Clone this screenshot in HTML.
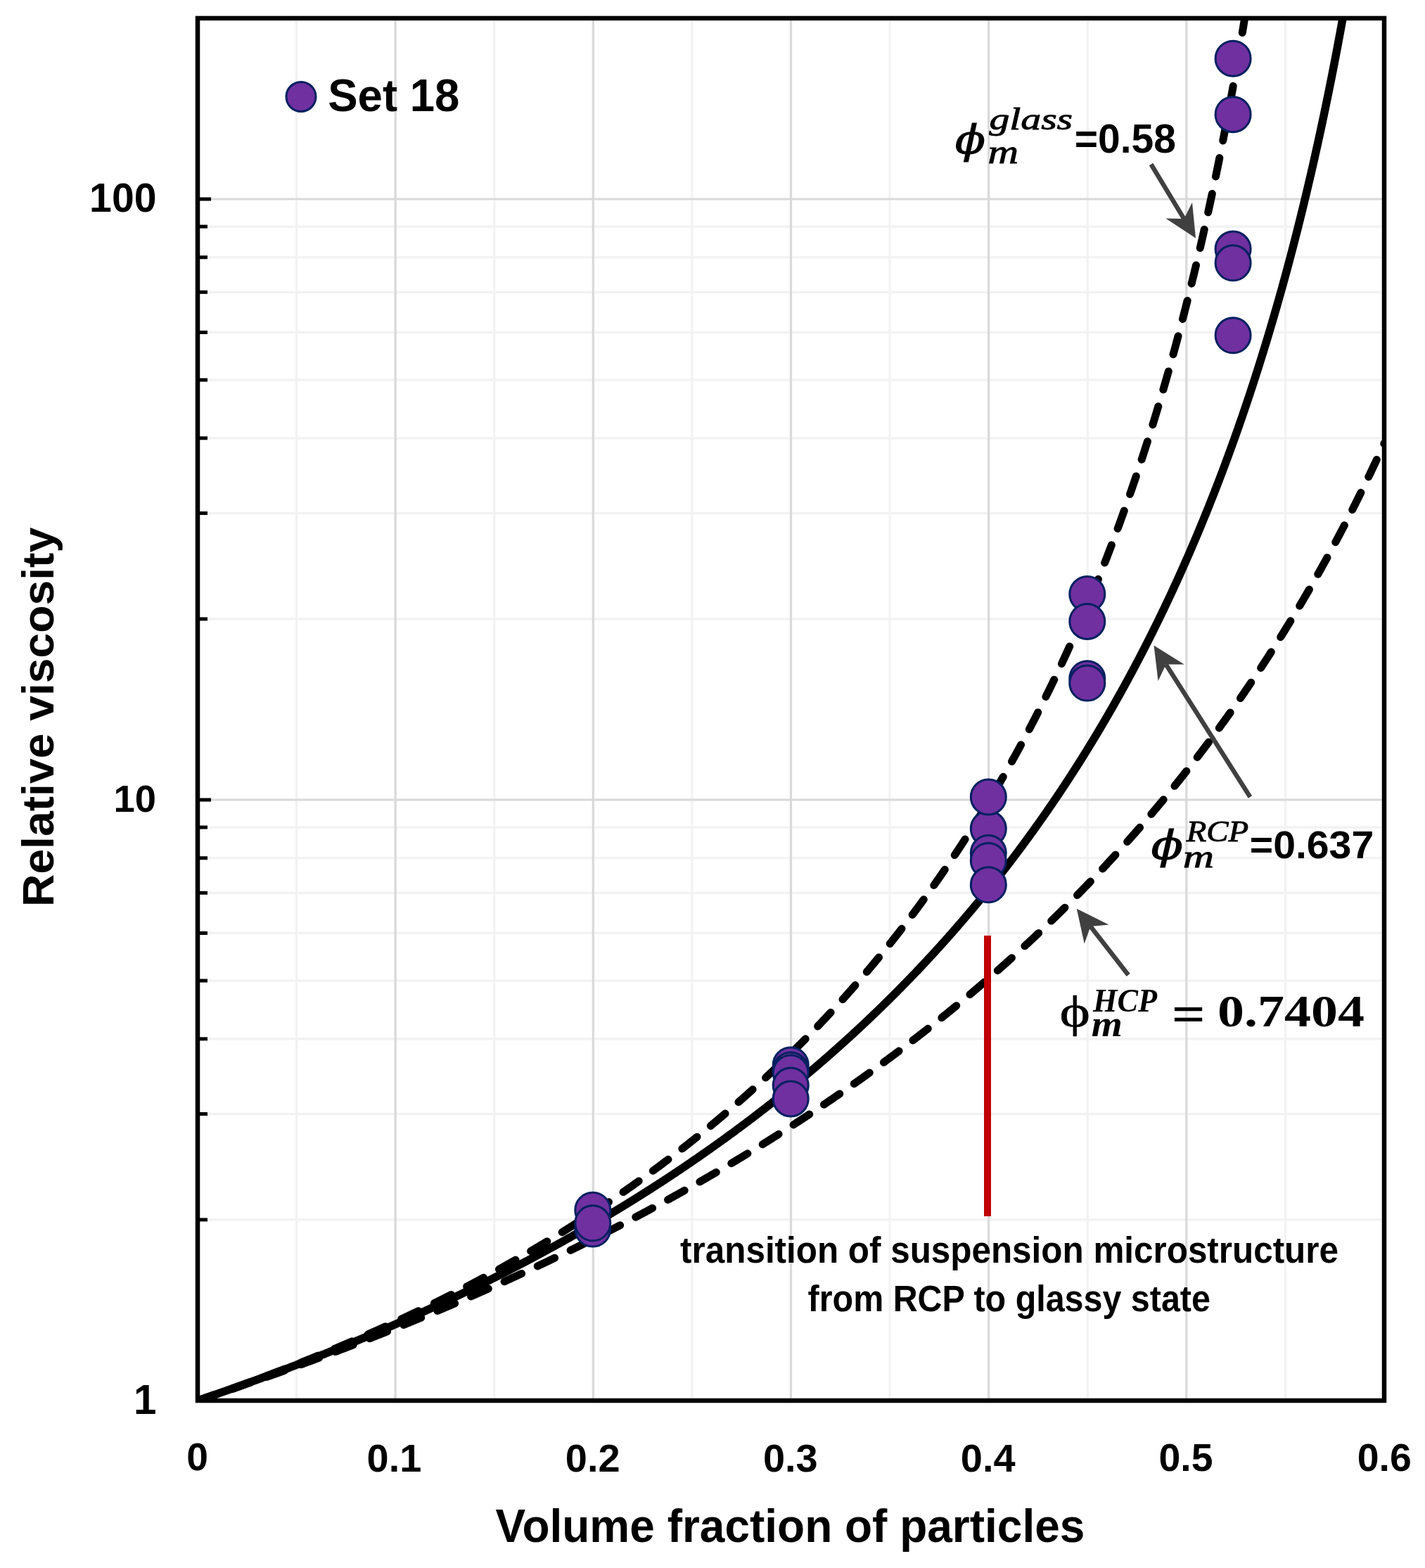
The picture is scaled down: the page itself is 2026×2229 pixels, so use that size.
<!DOCTYPE html>
<html><head><meta charset="utf-8"><title>Relative viscosity vs volume fraction</title>
<style>
html,body{margin:0;padding:0;background:#fff;}
svg{display:block;}
.sans{font-family:"Liberation Sans",Arial,sans-serif;font-weight:bold;}
.serif{font-family:"Liberation Serif","Times New Roman",serif;}
.dserif{font-family:"DejaVu Serif",serif;}
</style></head><body>
<svg width="2026" height="2229" viewBox="0 0 2026 2229">
<rect x="0" y="0" width="2026" height="2229" fill="#fff"/>
<defs><clipPath id="pa"><rect x="281.0" y="25.920383702959953" width="1687.0" height="1965.07961629704"/></clipPath></defs>

<line x1="421.58" y1="25.92" x2="421.58" y2="1991.00" stroke="#f2f2f2" stroke-width="3.2"/>
<line x1="702.75" y1="25.92" x2="702.75" y2="1991.00" stroke="#f2f2f2" stroke-width="3.2"/>
<line x1="983.92" y1="25.92" x2="983.92" y2="1991.00" stroke="#f2f2f2" stroke-width="3.2"/>
<line x1="1265.08" y1="25.92" x2="1265.08" y2="1991.00" stroke="#f2f2f2" stroke-width="3.2"/>
<line x1="1546.25" y1="25.92" x2="1546.25" y2="1991.00" stroke="#f2f2f2" stroke-width="3.2"/>
<line x1="1827.42" y1="25.92" x2="1827.42" y2="1991.00" stroke="#f2f2f2" stroke-width="3.2"/>
<line x1="281.00" y1="1733.92" x2="1968.00" y2="1733.92" stroke="#f2f2f2" stroke-width="3.2"/>
<line x1="281.00" y1="1583.54" x2="1968.00" y2="1583.54" stroke="#f2f2f2" stroke-width="3.2"/>
<line x1="281.00" y1="1476.84" x2="1968.00" y2="1476.84" stroke="#f2f2f2" stroke-width="3.2"/>
<line x1="281.00" y1="1394.08" x2="1968.00" y2="1394.08" stroke="#f2f2f2" stroke-width="3.2"/>
<line x1="281.00" y1="1326.46" x2="1968.00" y2="1326.46" stroke="#f2f2f2" stroke-width="3.2"/>
<line x1="281.00" y1="1269.29" x2="1968.00" y2="1269.29" stroke="#f2f2f2" stroke-width="3.2"/>
<line x1="281.00" y1="1219.76" x2="1968.00" y2="1219.76" stroke="#f2f2f2" stroke-width="3.2"/>
<line x1="281.00" y1="1176.08" x2="1968.00" y2="1176.08" stroke="#f2f2f2" stroke-width="3.2"/>
<line x1="281.00" y1="879.92" x2="1968.00" y2="879.92" stroke="#f2f2f2" stroke-width="3.2"/>
<line x1="281.00" y1="729.54" x2="1968.00" y2="729.54" stroke="#f2f2f2" stroke-width="3.2"/>
<line x1="281.00" y1="622.84" x2="1968.00" y2="622.84" stroke="#f2f2f2" stroke-width="3.2"/>
<line x1="281.00" y1="540.08" x2="1968.00" y2="540.08" stroke="#f2f2f2" stroke-width="3.2"/>
<line x1="281.00" y1="472.46" x2="1968.00" y2="472.46" stroke="#f2f2f2" stroke-width="3.2"/>
<line x1="281.00" y1="415.29" x2="1968.00" y2="415.29" stroke="#f2f2f2" stroke-width="3.2"/>
<line x1="281.00" y1="365.76" x2="1968.00" y2="365.76" stroke="#f2f2f2" stroke-width="3.2"/>
<line x1="281.00" y1="322.08" x2="1968.00" y2="322.08" stroke="#f2f2f2" stroke-width="3.2"/>
<line x1="562.17" y1="25.92" x2="562.17" y2="1991.00" stroke="#d9d9d9" stroke-width="3.2"/>
<line x1="843.33" y1="25.92" x2="843.33" y2="1991.00" stroke="#d9d9d9" stroke-width="3.2"/>
<line x1="1124.50" y1="25.92" x2="1124.50" y2="1991.00" stroke="#d9d9d9" stroke-width="3.2"/>
<line x1="1405.67" y1="25.92" x2="1405.67" y2="1991.00" stroke="#d9d9d9" stroke-width="3.2"/>
<line x1="1686.83" y1="25.92" x2="1686.83" y2="1991.00" stroke="#d9d9d9" stroke-width="3.2"/>
<line x1="281.00" y1="1137.00" x2="1968.00" y2="1137.00" stroke="#d9d9d9" stroke-width="3.2"/>
<line x1="281.00" y1="283.00" x2="1968.00" y2="283.00" stroke="#d9d9d9" stroke-width="3.2"/>
<line x1="281.00" y1="1733.92" x2="295.00" y2="1733.92" stroke="#000" stroke-width="5"/>
<line x1="281.00" y1="1583.54" x2="295.00" y2="1583.54" stroke="#000" stroke-width="5"/>
<line x1="281.00" y1="1476.84" x2="295.00" y2="1476.84" stroke="#000" stroke-width="5"/>
<line x1="281.00" y1="1394.08" x2="295.00" y2="1394.08" stroke="#000" stroke-width="5"/>
<line x1="281.00" y1="1326.46" x2="295.00" y2="1326.46" stroke="#000" stroke-width="5"/>
<line x1="281.00" y1="1269.29" x2="295.00" y2="1269.29" stroke="#000" stroke-width="5"/>
<line x1="281.00" y1="1219.76" x2="295.00" y2="1219.76" stroke="#000" stroke-width="5"/>
<line x1="281.00" y1="1176.08" x2="295.00" y2="1176.08" stroke="#000" stroke-width="5"/>
<line x1="281.00" y1="1137.00" x2="300.00" y2="1137.00" stroke="#000" stroke-width="5"/>
<line x1="281.00" y1="879.92" x2="295.00" y2="879.92" stroke="#000" stroke-width="5"/>
<line x1="281.00" y1="729.54" x2="295.00" y2="729.54" stroke="#000" stroke-width="5"/>
<line x1="281.00" y1="622.84" x2="295.00" y2="622.84" stroke="#000" stroke-width="5"/>
<line x1="281.00" y1="540.08" x2="295.00" y2="540.08" stroke="#000" stroke-width="5"/>
<line x1="281.00" y1="472.46" x2="295.00" y2="472.46" stroke="#000" stroke-width="5"/>
<line x1="281.00" y1="415.29" x2="295.00" y2="415.29" stroke="#000" stroke-width="5"/>
<line x1="281.00" y1="365.76" x2="295.00" y2="365.76" stroke="#000" stroke-width="5"/>
<line x1="281.00" y1="322.08" x2="295.00" y2="322.08" stroke="#000" stroke-width="5"/>
<line x1="281.00" y1="283.00" x2="300.00" y2="283.00" stroke="#000" stroke-width="5"/>
<g clip-path="url(#pa)" fill="none" stroke="#000" stroke-linejoin="round">
<path d="M281.00,1991.00 L281.70,1990.77 L282.41,1990.53 L283.11,1990.30 L283.81,1990.07 L284.52,1989.83 L285.22,1989.60 L285.92,1989.37 L286.63,1989.13 L287.33,1988.90 L288.03,1988.66 L288.74,1988.43 L289.44,1988.20 L290.14,1987.96 L290.84,1987.73 L291.55,1987.49 L292.25,1987.26 L292.95,1987.02 L293.66,1986.79 L294.36,1986.55 L295.06,1986.32 L295.77,1986.08 L296.47,1985.85 L297.17,1985.61 L297.88,1985.38 L298.58,1985.14 L299.28,1984.90 L299.99,1984.67 L300.69,1984.43 L301.39,1984.20 L302.10,1983.96 L302.80,1983.72 L303.50,1983.49 L304.21,1983.25 L304.91,1983.01 L305.61,1982.78 L306.32,1982.54 L307.02,1982.30 L307.72,1982.06 L308.43,1981.83 L309.13,1981.59 L309.83,1981.35 L310.53,1981.11 L311.24,1980.88 L311.94,1980.64 L312.64,1980.40 L313.35,1980.16 L314.05,1979.92 L314.75,1979.69 L315.46,1979.45 L316.16,1979.21 L316.86,1978.97 L317.57,1978.73 L318.27,1978.49 L318.97,1978.25 L319.68,1978.01 L320.38,1977.77 L321.08,1977.53 L321.79,1977.30 L322.49,1977.06 L323.19,1976.82 L323.90,1976.58 L324.60,1976.34 L325.30,1976.10 L326.01,1975.86 L326.71,1975.62 L327.41,1975.38 L328.12,1975.13 L328.82,1974.89 L329.52,1974.65 L330.22,1974.41 L330.93,1974.17 L331.63,1973.93 L332.33,1973.69 L333.04,1973.45 L333.74,1973.21 L334.44,1972.96 L335.15,1972.72 L335.85,1972.48 L336.55,1972.24 L337.26,1972.00 L337.96,1971.75 L338.66,1971.51 L339.37,1971.27 L340.07,1971.03 L340.77,1970.78 L341.48,1970.54 L342.18,1970.30 L342.88,1970.06 L343.59,1969.81 L344.29,1969.57 L344.99,1969.33 L345.70,1969.08 L346.40,1968.84 L347.10,1968.60 L347.80,1968.35 L348.51,1968.11 L349.21,1967.86 L349.91,1967.62 L350.62,1967.37 L351.32,1967.13 L352.02,1966.89 L352.73,1966.64 L353.43,1966.40 L354.13,1966.15 L354.84,1965.91 L355.54,1965.66 L356.24,1965.42 L356.95,1965.17 L357.65,1964.93 L358.35,1964.68 L359.06,1964.43 L359.76,1964.19 L360.46,1963.94 L361.17,1963.70 L361.87,1963.45 L362.57,1963.20 L363.28,1962.96 L363.98,1962.71 L364.68,1962.46 L365.39,1962.22 L366.09,1961.97 L366.79,1961.72 L367.49,1961.48 L368.20,1961.23 L368.90,1960.98 L369.60,1960.73 L370.31,1960.49 L371.01,1960.24 L371.71,1959.99 L372.42,1959.74 L373.12,1959.49 L373.82,1959.25 L374.53,1959.00 L375.23,1958.75 L375.93,1958.50 L376.64,1958.25 L377.34,1958.00 L378.04,1957.75 L378.75,1957.50 L379.45,1957.25 L380.15,1957.01 L380.86,1956.76 L381.56,1956.51 L382.26,1956.26 L382.97,1956.01 L383.67,1955.76 L384.37,1955.51 L385.08,1955.26 L385.78,1955.01 L386.48,1954.76 L387.18,1954.51 L387.89,1954.25 L388.59,1954.00 L389.29,1953.75 L390.00,1953.50 L390.70,1953.25 L391.40,1953.00 L392.11,1952.75 L392.81,1952.50 L393.51,1952.24 L394.22,1951.99 L394.92,1951.74 L395.62,1951.49 L396.33,1951.24 L397.03,1950.98 L397.73,1950.73 L398.44,1950.48 L399.14,1950.23 L399.84,1949.97 L400.55,1949.72 L401.25,1949.47 L401.95,1949.21 L402.66,1948.96 L403.36,1948.71 L404.06,1948.45 L404.76,1948.20 L405.47,1947.95 L406.17,1947.69 L406.87,1947.44 L407.58,1947.18 L408.28,1946.93 L408.98,1946.68 L409.69,1946.42 L410.39,1946.17 L411.09,1945.91 L411.80,1945.66 L412.50,1945.40 L413.20,1945.15 L413.91,1944.89 L414.61,1944.64 L415.31,1944.38 L416.02,1944.12 L416.72,1943.87 L417.42,1943.61 L418.13,1943.36 L418.83,1943.10 L419.53,1942.84 L420.24,1942.59 L420.94,1942.33 L421.64,1942.07 L422.35,1941.82 L423.05,1941.56 L423.75,1941.30 L424.45,1941.05 L425.16,1940.79 L425.86,1940.53 L426.56,1940.27 L427.27,1940.02 L427.97,1939.76 L428.67,1939.50 L429.38,1939.24 L430.08,1938.98 L430.78,1938.73 L431.49,1938.47 L432.19,1938.21 L432.89,1937.95 L433.60,1937.69 L434.30,1937.43 L435.00,1937.17 L435.71,1936.91 L436.41,1936.65 L437.11,1936.39 L437.82,1936.14 L438.52,1935.88 L439.22,1935.62 L439.93,1935.36 L440.63,1935.10 L441.33,1934.83 L442.04,1934.57 L442.74,1934.31 L443.44,1934.05 L444.14,1933.79 L444.85,1933.53 L445.55,1933.27 L446.25,1933.01 L446.96,1932.75 L447.66,1932.49 L448.36,1932.22 L449.07,1931.96 L449.77,1931.70 L450.47,1931.44 L451.18,1931.18 L451.88,1930.91 L452.58,1930.65 L453.29,1930.39 L453.99,1930.13 L454.69,1929.86 L455.40,1929.60 L456.10,1929.34 L456.80,1929.08 L457.51,1928.81 L458.21,1928.55 L458.91,1928.29 L459.62,1928.02 L460.32,1927.76 L461.02,1927.49 L461.72,1927.23 L462.43,1926.97 L463.13,1926.70 L463.83,1926.44 L464.54,1926.17 L465.24,1925.91 L465.94,1925.64 L466.65,1925.38 L467.35,1925.11 L468.05,1924.85 L468.76,1924.58 L469.46,1924.32 L470.16,1924.05 L470.87,1923.78 L471.57,1923.52 L472.27,1923.25 L472.98,1922.99 L473.68,1922.72 L474.38,1922.45 L475.09,1922.19 L475.79,1921.92 L476.49,1921.65 L477.20,1921.39 L477.90,1921.12 L478.60,1920.85 L479.31,1920.58 L480.01,1920.32 L480.71,1920.05 L481.41,1919.78 L482.12,1919.51 L482.82,1919.24 L483.52,1918.98 L484.23,1918.71 L484.93,1918.44 L485.63,1918.17 L486.34,1917.90 L487.04,1917.63 L487.74,1917.36 L488.45,1917.09 L489.15,1916.83 L489.85,1916.56 L490.56,1916.29 L491.26,1916.02 L491.96,1915.75 L492.67,1915.48 L493.37,1915.21 L494.07,1914.94 L494.78,1914.67 L495.48,1914.40 L496.18,1914.12 L496.89,1913.85 L497.59,1913.58 L498.29,1913.31 L498.99,1913.04 L499.70,1912.77 L500.40,1912.50 L501.10,1912.23 L501.81,1911.95 L502.51,1911.68 L503.21,1911.41 L503.92,1911.14 L504.62,1910.87 L505.32,1910.59 L506.03,1910.32 L506.73,1910.05 L507.43,1909.77 L508.14,1909.50 L508.84,1909.23 L509.54,1908.95 L510.25,1908.68 L510.95,1908.41 L511.65,1908.13 L512.36,1907.86 L513.06,1907.59 L513.76,1907.31 L514.47,1907.04 L515.17,1906.76 L515.87,1906.49 L516.58,1906.21 L517.28,1905.94 L517.98,1905.66 L518.68,1905.39 L519.39,1905.11 L520.09,1904.84 L520.79,1904.56 L521.50,1904.29 L522.20,1904.01 L522.90,1903.74 L523.61,1903.46 L524.31,1903.18 L525.01,1902.91 L525.72,1902.63 L526.42,1902.35 L527.12,1902.08 L527.83,1901.80 L528.53,1901.52 L529.23,1901.24 L529.94,1900.97 L530.64,1900.69 L531.34,1900.41 L532.05,1900.13 L532.75,1899.86 L533.45,1899.58 L534.16,1899.30 L534.86,1899.02 L535.56,1898.74 L536.27,1898.46 L536.97,1898.19 L537.67,1897.91 L538.37,1897.63 L539.08,1897.35 L539.78,1897.07 L540.48,1896.79 L541.19,1896.51 L541.89,1896.23 L542.59,1895.95 L543.30,1895.67 L544.00,1895.39 L544.70,1895.11 L545.41,1894.83 L546.11,1894.55 L546.81,1894.27 L547.52,1893.99 L548.22,1893.70 L548.92,1893.42 L549.63,1893.14 L550.33,1892.86 L551.03,1892.58 L551.74,1892.30 L552.44,1892.01 L553.14,1891.73 L553.85,1891.45 L554.55,1891.17 L555.25,1890.88 L555.95,1890.60 L556.66,1890.32 L557.36,1890.04 L558.06,1889.75 L558.77,1889.47 L559.47,1889.19 L560.17,1888.90 L560.88,1888.62 L561.58,1888.33 L562.28,1888.05 L562.99,1887.77 L563.69,1887.48 L564.39,1887.20 L565.10,1886.91 L565.80,1886.63 L566.50,1886.34 L567.21,1886.06 L567.91,1885.77 L568.61,1885.49 L569.32,1885.20 L570.02,1884.92 L570.72,1884.63 L571.43,1884.34 L572.13,1884.06 L572.83,1883.77 L573.54,1883.49 L574.24,1883.20 L574.94,1882.91 L575.64,1882.63 L576.35,1882.34 L577.05,1882.05 L577.75,1881.76 L578.46,1881.48 L579.16,1881.19 L579.86,1880.90 L580.57,1880.61 L581.27,1880.32 L581.97,1880.04 L582.68,1879.75 L583.38,1879.46 L584.08,1879.17 L584.79,1878.88 L585.49,1878.59 L586.19,1878.30 L586.90,1878.01 L587.60,1877.73 L588.30,1877.44 L589.01,1877.15 L589.71,1876.86 L590.41,1876.57 L591.12,1876.28 L591.82,1875.99 L592.52,1875.69 L593.23,1875.40 L593.93,1875.11 L594.63,1874.82 L595.33,1874.53 L596.04,1874.24 L596.74,1873.95 L597.44,1873.66 L598.15,1873.37 L598.85,1873.07 L599.55,1872.78 L600.26,1872.49 L600.96,1872.20 L601.66,1871.90 L602.37,1871.61 L603.07,1871.32 L603.77,1871.03 L604.48,1870.73 L605.18,1870.44 L605.88,1870.15 L606.59,1869.85 L607.29,1869.56 L607.99,1869.26 L608.70,1868.97 L609.40,1868.68 L610.10,1868.38 L610.81,1868.09 L611.51,1867.79 L612.21,1867.50 L612.91,1867.20 L613.62,1866.91 L614.32,1866.61 L615.02,1866.32 L615.73,1866.02 L616.43,1865.73 L617.13,1865.43 L617.84,1865.13 L618.54,1864.84 L619.24,1864.54 L619.95,1864.24 L620.65,1863.95 L621.35,1863.65 L622.06,1863.35 L622.76,1863.06 L623.46,1862.76 L624.17,1862.46 L624.87,1862.16 L625.57,1861.87 L626.28,1861.57 L626.98,1861.27 L627.68,1860.97 L628.39,1860.67 L629.09,1860.38 L629.79,1860.08 L630.50,1859.78 L631.20,1859.48 L631.90,1859.18 L632.60,1858.88 L633.31,1858.58 L634.01,1858.28 L634.71,1857.98 L635.42,1857.68 L636.12,1857.38 L636.82,1857.08 L637.53,1856.78 L638.23,1856.48 L638.93,1856.18 L639.64,1855.88 L640.34,1855.58 L641.04,1855.27 L641.75,1854.97 L642.45,1854.67 L643.15,1854.37 L643.86,1854.07 L644.56,1853.77 L645.26,1853.46 L645.97,1853.16 L646.67,1852.86 L647.37,1852.56 L648.08,1852.25 L648.78,1851.95 L649.48,1851.65 L650.19,1851.34 L650.89,1851.04 L651.59,1850.74 L652.29,1850.43 L653.00,1850.13 L653.70,1849.82 L654.40,1849.52 L655.11,1849.21 L655.81,1848.91 L656.51,1848.61 L657.22,1848.30 L657.92,1847.99 L658.62,1847.69 L659.33,1847.38 L660.03,1847.08 L660.73,1846.77 L661.44,1846.47 L662.14,1846.16 L662.84,1845.85 L663.55,1845.55 L664.25,1845.24 L664.95,1844.93 L665.66,1844.63 L666.36,1844.32 L667.06,1844.01 L667.77,1843.70 L668.47,1843.40 L669.17,1843.09 L669.87,1842.78 L670.58,1842.47 L671.28,1842.16 L671.98,1841.86 L672.69,1841.55 L673.39,1841.24 L674.09,1840.93 L674.80,1840.62 L675.50,1840.31 L676.20,1840.00 L676.91,1839.69 L677.61,1839.38 L678.31,1839.07 L679.02,1838.76 L679.72,1838.45 L680.42,1838.14 L681.13,1837.83 L681.83,1837.52 L682.53,1837.21 L683.24,1836.90 L683.94,1836.59 L684.64,1836.27 L685.35,1835.96 L686.05,1835.65 L686.75,1835.34 L687.46,1835.03 L688.16,1834.71 L688.86,1834.40 L689.56,1834.09 L690.27,1833.78 L690.97,1833.46 L691.67,1833.15 L692.38,1832.84 L693.08,1832.52 L693.78,1832.21 L694.49,1831.89 L695.19,1831.58 L695.89,1831.27 L696.60,1830.95 L697.30,1830.64 L698.00,1830.32 L698.71,1830.01 L699.41,1829.69 L700.11,1829.38 L700.82,1829.06 L701.52,1828.75 L702.22,1828.43 L702.93,1828.11 L703.63,1827.80 L704.33,1827.48 L705.04,1827.17 L705.74,1826.85 L706.44,1826.53 L707.15,1826.21 L707.85,1825.90 L708.55,1825.58 L709.25,1825.26 L709.96,1824.94 L710.66,1824.63 L711.36,1824.31 L712.07,1823.99 L712.77,1823.67 L713.47,1823.35 L714.18,1823.03 L714.88,1822.72 L715.58,1822.40 L716.29,1822.08 L716.99,1821.76 L717.69,1821.44 L718.40,1821.12 L719.10,1820.80 L719.80,1820.48 L720.51,1820.16 L721.21,1819.84 L721.91,1819.52 L722.62,1819.20 L723.32,1818.88 L724.02,1818.55 L724.73,1818.23 L725.43,1817.91 L726.13,1817.59 L726.83,1817.27 L727.54,1816.94 L728.24,1816.62 L728.94,1816.30 L729.65,1815.98 L730.35,1815.65 L731.05,1815.33 L731.76,1815.01 L732.46,1814.69 L733.16,1814.36 L733.87,1814.04 L734.57,1813.71 L735.27,1813.39 L735.98,1813.07 L736.68,1812.74 L737.38,1812.42 L738.09,1812.09 L738.79,1811.77 L739.49,1811.44 L740.20,1811.12 L740.90,1810.79 L741.60,1810.46 L742.31,1810.14 L743.01,1809.81 L743.71,1809.49 L744.42,1809.16 L745.12,1808.83 L745.82,1808.51 L746.52,1808.18 L747.23,1807.85 L747.93,1807.53 L748.63,1807.20 L749.34,1806.87 L750.04,1806.54 L750.74,1806.21 L751.45,1805.89 L752.15,1805.56 L752.85,1805.23 L753.56,1804.90 L754.26,1804.57 L754.96,1804.24 L755.67,1803.91 L756.37,1803.58 L757.07,1803.25 L757.78,1802.92 L758.48,1802.59 L759.18,1802.26 L759.89,1801.93 L760.59,1801.60 L761.29,1801.27 L762.00,1800.94 L762.70,1800.61 L763.40,1800.28 L764.11,1799.95 L764.81,1799.61 L765.51,1799.28 L766.21,1798.95 L766.92,1798.62 L767.62,1798.29 L768.32,1797.95 L769.03,1797.62 L769.73,1797.29 L770.43,1796.95 L771.14,1796.62 L771.84,1796.29 L772.54,1795.95 L773.25,1795.62 L773.95,1795.28 L774.65,1794.95 L775.36,1794.62 L776.06,1794.28 L776.76,1793.95 L777.47,1793.61 L778.17,1793.27 L778.87,1792.94 L779.58,1792.60 L780.28,1792.27 L780.98,1791.93 L781.69,1791.60 L782.39,1791.26 L783.09,1790.92 L783.79,1790.59 L784.50,1790.25 L785.20,1789.91 L785.90,1789.57 L786.61,1789.24 L787.31,1788.90 L788.01,1788.56 L788.72,1788.22 L789.42,1787.88 L790.12,1787.55 L790.83,1787.21 L791.53,1786.87 L792.23,1786.53 L792.94,1786.19 L793.64,1785.85 L794.34,1785.51 L795.05,1785.17 L795.75,1784.83 L796.45,1784.49 L797.16,1784.15 L797.86,1783.81 L798.56,1783.47 L799.27,1783.13 L799.97,1782.78 L800.67,1782.44 L801.38,1782.10 L802.08,1781.76 L802.78,1781.42 L803.48,1781.08 L804.19,1780.73 L804.89,1780.39 L805.59,1780.05 L806.30,1779.70 L807.00,1779.36 L807.70,1779.02 L808.41,1778.67 L809.11,1778.33 L809.81,1777.99 L810.52,1777.64 L811.22,1777.30 L811.92,1776.95 L812.63,1776.61 L813.33,1776.26 L814.03,1775.92 L814.74,1775.57 L815.44,1775.23 L816.14,1774.88 L816.85,1774.54 L817.55,1774.19 L818.25,1773.84 L818.96,1773.50 L819.66,1773.15 L820.36,1772.80 L821.07,1772.46 L821.77,1772.11 L822.47,1771.76 L823.17,1771.41 L823.88,1771.06 L824.58,1770.72 L825.28,1770.37 L825.99,1770.02 L826.69,1769.67 L827.39,1769.32 L828.10,1768.97 L828.80,1768.62 L829.50,1768.27 L830.21,1767.92 L830.91,1767.57 L831.61,1767.22 L832.32,1766.87 L833.02,1766.52 L833.72,1766.17 L834.43,1765.82 L835.13,1765.47 L835.83,1765.12 L836.54,1764.77 L837.24,1764.41 L837.94,1764.06 L838.65,1763.71 L839.35,1763.36 L840.05,1763.01 L840.75,1762.65 L841.46,1762.30 L842.16,1761.95 L842.86,1761.59 L843.57,1761.24 L844.27,1760.88 L844.97,1760.53 L845.68,1760.18 L846.38,1759.82 L847.08,1759.47 L847.79,1759.11 L848.49,1758.76 L849.19,1758.40 L849.90,1758.05 L850.60,1757.69 L851.30,1757.33 L852.01,1756.98 L852.71,1756.62 L853.41,1756.27 L854.12,1755.91 L854.82,1755.55 L855.52,1755.19 L856.23,1754.84 L856.93,1754.48 L857.63,1754.12 L858.34,1753.76 L859.04,1753.41 L859.74,1753.05 L860.44,1752.69 L861.15,1752.33 L861.85,1751.97 L862.55,1751.61 L863.26,1751.25 L863.96,1750.89 L864.66,1750.53 L865.37,1750.17 L866.07,1749.81 L866.77,1749.45 L867.48,1749.09 L868.18,1748.73 L868.88,1748.37 L869.59,1748.01 L870.29,1747.64 L870.99,1747.28 L871.70,1746.92 L872.40,1746.56 L873.10,1746.20 L873.81,1745.83 L874.51,1745.47 L875.21,1745.11 L875.92,1744.74 L876.62,1744.38 L877.32,1744.02 L878.03,1743.65 L878.73,1743.29 L879.43,1742.92 L880.13,1742.56 L880.84,1742.20 L881.54,1741.83 L882.24,1741.46 L882.95,1741.10 L883.65,1740.73 L884.35,1740.37 L885.06,1740.00 L885.76,1739.64 L886.46,1739.27 L887.17,1738.90 L887.87,1738.53 L888.57,1738.17 L889.28,1737.80 L889.98,1737.43 L890.68,1737.06 L891.39,1736.70 L892.09,1736.33 L892.79,1735.96 L893.50,1735.59 L894.20,1735.22 L894.90,1734.85 L895.61,1734.48 L896.31,1734.11 L897.01,1733.74 L897.71,1733.37 L898.42,1733.00 L899.12,1732.63 L899.82,1732.26 L900.53,1731.89 L901.23,1731.52 L901.93,1731.15 L902.64,1730.78 L903.34,1730.41 L904.04,1730.03 L904.75,1729.66 L905.45,1729.29 L906.15,1728.92 L906.86,1728.54 L907.56,1728.17 L908.26,1727.80 L908.97,1727.42 L909.67,1727.05 L910.37,1726.67 L911.08,1726.30 L911.78,1725.93 L912.48,1725.55 L913.19,1725.18 L913.89,1724.80 L914.59,1724.43 L915.30,1724.05 L916.00,1723.67 L916.70,1723.30 L917.40,1722.92 L918.11,1722.54 L918.81,1722.17 L919.51,1721.79 L920.22,1721.41 L920.92,1721.04 L921.62,1720.66 L922.33,1720.28 L923.03,1719.90 L923.73,1719.52 L924.44,1719.15 L925.14,1718.77 L925.84,1718.39 L926.55,1718.01 L927.25,1717.63 L927.95,1717.25 L928.66,1716.87 L929.36,1716.49 L930.06,1716.11 L930.77,1715.73 L931.47,1715.35 L932.17,1714.97 L932.88,1714.58 L933.58,1714.20 L934.28,1713.82 L934.98,1713.44 L935.69,1713.06 L936.39,1712.67 L937.09,1712.29 L937.80,1711.91 L938.50,1711.53 L939.20,1711.14 L939.91,1710.76 L940.61,1710.37 L941.31,1709.99 L942.02,1709.61 L942.72,1709.22 L943.42,1708.84 L944.13,1708.45 L944.83,1708.07 L945.53,1707.68 L946.24,1707.29 L946.94,1706.91 L947.64,1706.52 L948.35,1706.14 L949.05,1705.75 L949.75,1705.36 L950.46,1704.97 L951.16,1704.59 L951.86,1704.20 L952.57,1703.81 L953.27,1703.42 L953.97,1703.03 L954.67,1702.65 L955.38,1702.26 L956.08,1701.87 L956.78,1701.48 L957.49,1701.09 L958.19,1700.70 L958.89,1700.31 L959.60,1699.92 L960.30,1699.53 L961.00,1699.14 L961.71,1698.75 L962.41,1698.36 L963.11,1697.96 L963.82,1697.57 L964.52,1697.18 L965.22,1696.79 L965.93,1696.39 L966.63,1696.00 L967.33,1695.61 L968.04,1695.22 L968.74,1694.82 L969.44,1694.43 L970.15,1694.03 L970.85,1693.64 L971.55,1693.25 L972.26,1692.85 L972.96,1692.46 L973.66,1692.06 L974.36,1691.67 L975.07,1691.27 L975.77,1690.87 L976.47,1690.48 L977.18,1690.08 L977.88,1689.69 L978.58,1689.29 L979.29,1688.89 L979.99,1688.49 L980.69,1688.10 L981.40,1687.70 L982.10,1687.30 L982.80,1686.90 L983.51,1686.50 L984.21,1686.10 L984.91,1685.71 L985.62,1685.31 L986.32,1684.91 L987.02,1684.51 L987.73,1684.11 L988.43,1683.71 L989.13,1683.31 L989.84,1682.90 L990.54,1682.50 L991.24,1682.10 L991.94,1681.70 L992.65,1681.30 L993.35,1680.90 L994.05,1680.49 L994.76,1680.09 L995.46,1679.69 L996.16,1679.29 L996.87,1678.88 L997.57,1678.48 L998.27,1678.07 L998.98,1677.67 L999.68,1677.27 L1000.38,1676.86 L1001.09,1676.46 L1001.79,1676.05 L1002.49,1675.65 L1003.20,1675.24 L1003.90,1674.83 L1004.60,1674.43 L1005.31,1674.02 L1006.01,1673.61 L1006.71,1673.21 L1007.42,1672.80 L1008.12,1672.39 L1008.82,1671.99 L1009.53,1671.58 L1010.23,1671.17 L1010.93,1670.76 L1011.63,1670.35 L1012.34,1669.94 L1013.04,1669.53 L1013.74,1669.12 L1014.45,1668.71 L1015.15,1668.30 L1015.85,1667.89 L1016.56,1667.48 L1017.26,1667.07 L1017.96,1666.66 L1018.67,1666.25 L1019.37,1665.84 L1020.07,1665.43 L1020.78,1665.01 L1021.48,1664.60 L1022.18,1664.19 L1022.89,1663.78 L1023.59,1663.36 L1024.29,1662.95 L1025.00,1662.54 L1025.70,1662.12 L1026.40,1661.71 L1027.11,1661.29 L1027.81,1660.88 L1028.51,1660.46 L1029.22,1660.05 L1029.92,1659.63 L1030.62,1659.22 L1031.32,1658.80 L1032.03,1658.38 L1032.73,1657.97 L1033.43,1657.55 L1034.14,1657.13 L1034.84,1656.72 L1035.54,1656.30 L1036.25,1655.88 L1036.95,1655.46 L1037.65,1655.04 L1038.36,1654.63 L1039.06,1654.21 L1039.76,1653.79 L1040.47,1653.37 L1041.17,1652.95 L1041.87,1652.53 L1042.58,1652.11 L1043.28,1651.69 L1043.98,1651.27 L1044.69,1650.84 L1045.39,1650.42 L1046.09,1650.00 L1046.80,1649.58 L1047.50,1649.16 L1048.20,1648.73 L1048.90,1648.31 L1049.61,1647.89 L1050.31,1647.46 L1051.01,1647.04 L1051.72,1646.62 L1052.42,1646.19 L1053.12,1645.77 L1053.83,1645.34 L1054.53,1644.92 L1055.23,1644.49 L1055.94,1644.07 L1056.64,1643.64 L1057.34,1643.22 L1058.05,1642.79 L1058.75,1642.36 L1059.45,1641.94 L1060.16,1641.51 L1060.86,1641.08 L1061.56,1640.65 L1062.27,1640.23 L1062.97,1639.80 L1063.67,1639.37 L1064.38,1638.94 L1065.08,1638.51 L1065.78,1638.08 L1066.49,1637.65 L1067.19,1637.22 L1067.89,1636.79 L1068.59,1636.36 L1069.30,1635.93 L1070.00,1635.50 L1070.70,1635.07 L1071.41,1634.63 L1072.11,1634.20 L1072.81,1633.77 L1073.52,1633.34 L1074.22,1632.91 L1074.92,1632.47 L1075.63,1632.04 L1076.33,1631.60 L1077.03,1631.17 L1077.74,1630.74 L1078.44,1630.30 L1079.14,1629.87 L1079.85,1629.43 L1080.55,1629.00 L1081.25,1628.56 L1081.96,1628.13 L1082.66,1627.69 L1083.36,1627.25 L1084.07,1626.82 L1084.77,1626.38 L1085.47,1625.94 L1086.18,1625.50 L1086.88,1625.07 L1087.58,1624.63 L1088.28,1624.19 L1088.99,1623.75 L1089.69,1623.31 L1090.39,1622.87 L1091.10,1622.43 L1091.80,1621.99 L1092.50,1621.55 L1093.21,1621.11 L1093.91,1620.67 L1094.61,1620.23 L1095.32,1619.79 L1096.02,1619.34 L1096.72,1618.90 L1097.43,1618.46 L1098.13,1618.02 L1098.83,1617.57 L1099.54,1617.13 L1100.24,1616.69 L1100.94,1616.24 L1101.65,1615.80 L1102.35,1615.36 L1103.05,1614.91 L1103.76,1614.47 L1104.46,1614.02 L1105.16,1613.57 L1105.86,1613.13 L1106.57,1612.68 L1107.27,1612.24 L1107.97,1611.79 L1108.68,1611.34 L1109.38,1610.89 L1110.08,1610.45 L1110.79,1610.00 L1111.49,1609.55 L1112.19,1609.10 L1112.90,1608.65 L1113.60,1608.20 L1114.30,1607.75 L1115.01,1607.30 L1115.71,1606.85 L1116.41,1606.40 L1117.12,1605.95 L1117.82,1605.50 L1118.52,1605.05 L1119.23,1604.60 L1119.93,1604.15 L1120.63,1603.70 L1121.34,1603.24 L1122.04,1602.79 L1122.74,1602.34 L1123.45,1601.88 L1124.15,1601.43 L1124.85,1600.98 L1125.55,1600.52 L1126.26,1600.07 L1126.96,1599.61 L1127.66,1599.16 L1128.37,1598.70 L1129.07,1598.24 L1129.77,1597.79 L1130.48,1597.33 L1131.18,1596.88 L1131.88,1596.42 L1132.59,1595.96 L1133.29,1595.50 L1133.99,1595.04 L1134.70,1594.59 L1135.40,1594.13 L1136.10,1593.67 L1136.81,1593.21 L1137.51,1592.75 L1138.21,1592.29 L1138.92,1591.83 L1139.62,1591.37 L1140.32,1590.91 L1141.03,1590.45 L1141.73,1589.99 L1142.43,1589.52 L1143.14,1589.06 L1143.84,1588.60 L1144.54,1588.14 L1145.24,1587.67 L1145.95,1587.21 L1146.65,1586.75 L1147.35,1586.28 L1148.06,1585.82 L1148.76,1585.35 L1149.46,1584.89 L1150.17,1584.42 L1150.87,1583.96 L1151.57,1583.49 L1152.28,1583.02 L1152.98,1582.56 L1153.68,1582.09 L1154.39,1581.62 L1155.09,1581.16 L1155.79,1580.69 L1156.50,1580.22 L1157.20,1579.75 L1157.90,1579.28 L1158.61,1578.81 L1159.31,1578.34 L1160.01,1577.87 L1160.72,1577.40 L1161.42,1576.93 L1162.12,1576.46 L1162.82,1575.99 L1163.53,1575.52 L1164.23,1575.05 L1164.93,1574.58 L1165.64,1574.10 L1166.34,1573.63 L1167.04,1573.16 L1167.75,1572.68 L1168.45,1572.21 L1169.15,1571.74 L1169.86,1571.26 L1170.56,1570.79 L1171.26,1570.31 L1171.97,1569.84 L1172.67,1569.36 L1173.37,1568.89 L1174.08,1568.41 L1174.78,1567.93 L1175.48,1567.46 L1176.19,1566.98 L1176.89,1566.50 L1177.59,1566.02 L1178.30,1565.54 L1179.00,1565.06 L1179.70,1564.59 L1180.41,1564.11 L1181.11,1563.63 L1181.81,1563.15 L1182.51,1562.67 L1183.22,1562.19 L1183.92,1561.70 L1184.62,1561.22 L1185.33,1560.74 L1186.03,1560.26 L1186.73,1559.78 L1187.44,1559.29 L1188.14,1558.81 L1188.84,1558.33 L1189.55,1557.84 L1190.25,1557.36 L1190.95,1556.88 L1191.66,1556.39 L1192.36,1555.91 L1193.06,1555.42 L1193.77,1554.93 L1194.47,1554.45 L1195.17,1553.96 L1195.88,1553.47 L1196.58,1552.99 L1197.28,1552.50 L1197.99,1552.01 L1198.69,1551.52 L1199.39,1551.03 L1200.10,1550.55 L1200.80,1550.06 L1201.50,1549.57 L1202.20,1549.08 L1202.91,1548.59 L1203.61,1548.10 L1204.31,1547.61 L1205.02,1547.11 L1205.72,1546.62 L1206.42,1546.13 L1207.13,1545.64 L1207.83,1545.14 L1208.53,1544.65 L1209.24,1544.16 L1209.94,1543.66 L1210.64,1543.17 L1211.35,1542.68 L1212.05,1542.18 L1212.75,1541.69 L1213.46,1541.19 L1214.16,1540.69 L1214.86,1540.20 L1215.57,1539.70 L1216.27,1539.20 L1216.97,1538.71 L1217.68,1538.21 L1218.38,1537.71 L1219.08,1537.21 L1219.78,1536.71 L1220.49,1536.21 L1221.19,1535.72 L1221.89,1535.22 L1222.60,1534.72 L1223.30,1534.21 L1224.00,1533.71 L1224.71,1533.21 L1225.41,1532.71 L1226.11,1532.21 L1226.82,1531.71 L1227.52,1531.20 L1228.22,1530.70 L1228.93,1530.20 L1229.63,1529.69 L1230.33,1529.19 L1231.04,1528.68 L1231.74,1528.18 L1232.44,1527.67 L1233.15,1527.17 L1233.85,1526.66 L1234.55,1526.16 L1235.26,1525.65 L1235.96,1525.14 L1236.66,1524.63 L1237.37,1524.13 L1238.07,1523.62 L1238.77,1523.11 L1239.47,1522.60 L1240.18,1522.09 L1240.88,1521.58 L1241.58,1521.07 L1242.29,1520.56 L1242.99,1520.05 L1243.69,1519.54 L1244.40,1519.03 L1245.10,1518.52 L1245.80,1518.00 L1246.51,1517.49 L1247.21,1516.98 L1247.91,1516.46 L1248.62,1515.95 L1249.32,1515.44 L1250.02,1514.92 L1250.73,1514.41 L1251.43,1513.89 L1252.13,1513.38 L1252.84,1512.86 L1253.54,1512.34 L1254.24,1511.83 L1254.95,1511.31 L1255.65,1510.79 L1256.35,1510.27 L1257.06,1509.75 L1257.76,1509.24 L1258.46,1508.72 L1259.16,1508.20 L1259.87,1507.68 L1260.57,1507.16 L1261.27,1506.64 L1261.98,1506.12 L1262.68,1505.59 L1263.38,1505.07 L1264.09,1504.55 L1264.79,1504.03 L1265.49,1503.50 L1266.20,1502.98 L1266.90,1502.46 L1267.60,1501.93 L1268.31,1501.41 L1269.01,1500.88 L1269.71,1500.36 L1270.42,1499.83 L1271.12,1499.31 L1271.82,1498.78 L1272.53,1498.25 L1273.23,1497.73 L1273.93,1497.20 L1274.64,1496.67 L1275.34,1496.14 L1276.04,1495.61 L1276.74,1495.08 L1277.45,1494.55 L1278.15,1494.02 L1278.85,1493.49 L1279.56,1492.96 L1280.26,1492.43 L1280.96,1491.90 L1281.67,1491.37 L1282.37,1490.84 L1283.07,1490.30 L1283.78,1489.77 L1284.48,1489.24 L1285.18,1488.70 L1285.89,1488.17 L1286.59,1487.63 L1287.29,1487.10 L1288.00,1486.56 L1288.70,1486.03 L1289.40,1485.49 L1290.11,1484.95 L1290.81,1484.41 L1291.51,1483.88 L1292.22,1483.34 L1292.92,1482.80 L1293.62,1482.26 L1294.33,1481.72 L1295.03,1481.18 L1295.73,1480.64 L1296.43,1480.10 L1297.14,1479.56 L1297.84,1479.02 L1298.54,1478.48 L1299.25,1477.94 L1299.95,1477.39 L1300.65,1476.85 L1301.36,1476.31 L1302.06,1475.76 L1302.76,1475.22 L1303.47,1474.67 L1304.17,1474.13 L1304.87,1473.58 L1305.58,1473.04 L1306.28,1472.49 L1306.98,1471.94 L1307.69,1471.40 L1308.39,1470.85 L1309.09,1470.30 L1309.80,1469.75 L1310.50,1469.20 L1311.20,1468.66 L1311.91,1468.11 L1312.61,1467.56 L1313.31,1467.01 L1314.02,1466.45 L1314.72,1465.90 L1315.42,1465.35 L1316.12,1464.80 L1316.83,1464.25 L1317.53,1463.69 L1318.23,1463.14 L1318.94,1462.59 L1319.64,1462.03 L1320.34,1461.48 L1321.05,1460.92 L1321.75,1460.37 L1322.45,1459.81 L1323.16,1459.25 L1323.86,1458.70 L1324.56,1458.14 L1325.27,1457.58 L1325.97,1457.02 L1326.67,1456.46 L1327.38,1455.91 L1328.08,1455.35 L1328.78,1454.79 L1329.49,1454.23 L1330.19,1453.67 L1330.89,1453.10 L1331.60,1452.54 L1332.30,1451.98 L1333.00,1451.42 L1333.70,1450.85 L1334.41,1450.29 L1335.11,1449.73 L1335.81,1449.16 L1336.52,1448.60 L1337.22,1448.03 L1337.92,1447.47 L1338.63,1446.90 L1339.33,1446.34 L1340.03,1445.77 L1340.74,1445.20 L1341.44,1444.63 L1342.14,1444.06 L1342.85,1443.50 L1343.55,1442.93 L1344.25,1442.36 L1344.96,1441.79 L1345.66,1441.22 L1346.36,1440.65 L1347.07,1440.07 L1347.77,1439.50 L1348.47,1438.93 L1349.18,1438.36 L1349.88,1437.78 L1350.58,1437.21 L1351.29,1436.64 L1351.99,1436.06 L1352.69,1435.49 L1353.39,1434.91 L1354.10,1434.33 L1354.80,1433.76 L1355.50,1433.18 L1356.21,1432.60 L1356.91,1432.03 L1357.61,1431.45 L1358.32,1430.87 L1359.02,1430.29 L1359.72,1429.71 L1360.43,1429.13 L1361.13,1428.55 L1361.83,1427.97 L1362.54,1427.39 L1363.24,1426.81 L1363.94,1426.22 L1364.65,1425.64 L1365.35,1425.06 L1366.05,1424.47 L1366.76,1423.89 L1367.46,1423.30 L1368.16,1422.72 L1368.87,1422.13 L1369.57,1421.55 L1370.27,1420.96 L1370.97,1420.37 L1371.68,1419.79 L1372.38,1419.20 L1373.08,1418.61 L1373.79,1418.02 L1374.49,1417.43 L1375.19,1416.84 L1375.90,1416.25 L1376.60,1415.66 L1377.30,1415.07 L1378.01,1414.48 L1378.71,1413.88 L1379.41,1413.29 L1380.12,1412.70 L1380.82,1412.10 L1381.52,1411.51 L1382.23,1410.92 L1382.93,1410.32 L1383.63,1409.72 L1384.34,1409.13 L1385.04,1408.53 L1385.74,1407.93 L1386.45,1407.34 L1387.15,1406.74 L1387.85,1406.14 L1388.56,1405.54 L1389.26,1404.94 L1389.96,1404.34 L1390.66,1403.74 L1391.37,1403.14 L1392.07,1402.54 L1392.77,1401.94 L1393.48,1401.33 L1394.18,1400.73 L1394.88,1400.13 L1395.59,1399.52 L1396.29,1398.92 L1396.99,1398.31 L1397.70,1397.71 L1398.40,1397.10 L1399.10,1396.50 L1399.81,1395.89 L1400.51,1395.28 L1401.21,1394.67 L1401.92,1394.07 L1402.62,1393.46 L1403.32,1392.85 L1404.03,1392.24 L1404.73,1391.63 L1405.43,1391.02 L1406.14,1390.40 L1406.84,1389.79 L1407.54,1389.18 L1408.25,1388.57 L1408.95,1387.95 L1409.65,1387.34 L1410.35,1386.72 L1411.06,1386.11 L1411.76,1385.49 L1412.46,1384.88 L1413.17,1384.26 L1413.87,1383.64 L1414.57,1383.03 L1415.28,1382.41 L1415.98,1381.79 L1416.68,1381.17 L1417.39,1380.55 L1418.09,1379.93 L1418.79,1379.31 L1419.50,1378.69 L1420.20,1378.07 L1420.90,1377.44 L1421.61,1376.82 L1422.31,1376.20 L1423.01,1375.57 L1423.72,1374.95 L1424.42,1374.33 L1425.12,1373.70 L1425.83,1373.07 L1426.53,1372.45 L1427.23,1371.82 L1427.93,1371.19 L1428.64,1370.57 L1429.34,1369.94 L1430.04,1369.31 L1430.75,1368.68 L1431.45,1368.05 L1432.15,1367.42 L1432.86,1366.79 L1433.56,1366.15 L1434.26,1365.52 L1434.97,1364.89 L1435.67,1364.26 L1436.37,1363.62 L1437.08,1362.99 L1437.78,1362.35 L1438.48,1361.72 L1439.19,1361.08 L1439.89,1360.44 L1440.59,1359.81 L1441.30,1359.17 L1442.00,1358.53 L1442.70,1357.89 L1443.41,1357.25 L1444.11,1356.61 L1444.81,1355.97 L1445.52,1355.33 L1446.22,1354.69 L1446.92,1354.05 L1447.62,1353.41 L1448.33,1352.76 L1449.03,1352.12 L1449.73,1351.47 L1450.44,1350.83 L1451.14,1350.18 L1451.84,1349.54 L1452.55,1348.89 L1453.25,1348.25 L1453.95,1347.60 L1454.66,1346.95 L1455.36,1346.30 L1456.06,1345.65 L1456.77,1345.00 L1457.47,1344.35 L1458.17,1343.70 L1458.88,1343.05 L1459.58,1342.40 L1460.28,1341.74 L1460.99,1341.09 L1461.69,1340.44 L1462.39,1339.78 L1463.10,1339.13 L1463.80,1338.47 L1464.50,1337.82 L1465.21,1337.16 L1465.91,1336.50 L1466.61,1335.84 L1467.31,1335.19 L1468.02,1334.53 L1468.72,1333.87 L1469.42,1333.21 L1470.13,1332.55 L1470.83,1331.89 L1471.53,1331.22 L1472.24,1330.56 L1472.94,1329.90 L1473.64,1329.24 L1474.35,1328.57 L1475.05,1327.91 L1475.75,1327.24 L1476.46,1326.58 L1477.16,1325.91 L1477.86,1325.24 L1478.57,1324.57 L1479.27,1323.91 L1479.97,1323.24 L1480.68,1322.57 L1481.38,1321.90 L1482.08,1321.23 L1482.79,1320.56 L1483.49,1319.88 L1484.19,1319.21 L1484.89,1318.54 L1485.60,1317.87 L1486.30,1317.19 L1487.00,1316.52 L1487.71,1315.84 L1488.41,1315.16 L1489.11,1314.49 L1489.82,1313.81 L1490.52,1313.13 L1491.22,1312.46 L1491.93,1311.78 L1492.63,1311.10 L1493.33,1310.42 L1494.04,1309.74 L1494.74,1309.05 L1495.44,1308.37 L1496.15,1307.69 L1496.85,1307.01 L1497.55,1306.32 L1498.26,1305.64 L1498.96,1304.95 L1499.66,1304.27 L1500.37,1303.58 L1501.07,1302.89 L1501.77,1302.21 L1502.48,1301.52 L1503.18,1300.83 L1503.88,1300.14 L1504.58,1299.45 L1505.29,1298.76 L1505.99,1298.07 L1506.69,1297.38 L1507.40,1296.68 L1508.10,1295.99 L1508.80,1295.30 L1509.51,1294.60 L1510.21,1293.91 L1510.91,1293.21 L1511.62,1292.51 L1512.32,1291.82 L1513.02,1291.12 L1513.73,1290.42 L1514.43,1289.72 L1515.13,1289.02 L1515.84,1288.32 L1516.54,1287.62 L1517.24,1286.92 L1517.95,1286.22 L1518.65,1285.52 L1519.35,1284.81 L1520.06,1284.11 L1520.76,1283.40 L1521.46,1282.70 L1522.17,1281.99 L1522.87,1281.29 L1523.57,1280.58 L1524.27,1279.87 L1524.98,1279.16 L1525.68,1278.45 L1526.38,1277.74 L1527.09,1277.03 L1527.79,1276.32 L1528.49,1275.61 L1529.20,1274.90 L1529.90,1274.19 L1530.60,1273.47 L1531.31,1272.76 L1532.01,1272.04 L1532.71,1271.33 L1533.42,1270.61 L1534.12,1269.89 L1534.82,1269.17 L1535.53,1268.46 L1536.23,1267.74 L1536.93,1267.02 L1537.64,1266.30 L1538.34,1265.58 L1539.04,1264.85 L1539.75,1264.13 L1540.45,1263.41 L1541.15,1262.68 L1541.85,1261.96 L1542.56,1261.24 L1543.26,1260.51 L1543.96,1259.78 L1544.67,1259.06 L1545.37,1258.33 L1546.07,1257.60 L1546.78,1256.87 L1547.48,1256.14 L1548.18,1255.41 L1548.89,1254.68 L1549.59,1253.95 L1550.29,1253.21 L1551.00,1252.48 L1551.70,1251.75 L1552.40,1251.01 L1553.11,1250.28 L1553.81,1249.54 L1554.51,1248.80 L1555.22,1248.06 L1555.92,1247.33 L1556.62,1246.59 L1557.33,1245.85 L1558.03,1245.11 L1558.73,1244.37 L1559.44,1243.62 L1560.14,1242.88 L1560.84,1242.14 L1561.54,1241.39 L1562.25,1240.65 L1562.95,1239.90 L1563.65,1239.16 L1564.36,1238.41 L1565.06,1237.66 L1565.76,1236.92 L1566.47,1236.17 L1567.17,1235.42 L1567.87,1234.67 L1568.58,1233.92 L1569.28,1233.16 L1569.98,1232.41 L1570.69,1231.66 L1571.39,1230.90 L1572.09,1230.15 L1572.80,1229.39 L1573.50,1228.64 L1574.20,1227.88 L1574.91,1227.12 L1575.61,1226.36 L1576.31,1225.61 L1577.02,1224.85 L1577.72,1224.09 L1578.42,1223.32 L1579.13,1222.56 L1579.83,1221.80 L1580.53,1221.04 L1581.23,1220.27 L1581.94,1219.51 L1582.64,1218.74 L1583.34,1217.97 L1584.05,1217.21 L1584.75,1216.44 L1585.45,1215.67 L1586.16,1214.90 L1586.86,1214.13 L1587.56,1213.36 L1588.27,1212.59 L1588.97,1211.81 L1589.67,1211.04 L1590.38,1210.27 L1591.08,1209.49 L1591.78,1208.72 L1592.49,1207.94 L1593.19,1207.16 L1593.89,1206.38 L1594.60,1205.61 L1595.30,1204.83 L1596.00,1204.05 L1596.71,1203.26 L1597.41,1202.48 L1598.11,1201.70 L1598.81,1200.92 L1599.52,1200.13 L1600.22,1199.35 L1600.92,1198.56 L1601.63,1197.78 L1602.33,1196.99 L1603.03,1196.20 L1603.74,1195.41 L1604.44,1194.62 L1605.14,1193.83 L1605.85,1193.04 L1606.55,1192.25 L1607.25,1191.45 L1607.96,1190.66 L1608.66,1189.87 L1609.36,1189.07 L1610.07,1188.28 L1610.77,1187.48 L1611.47,1186.68 L1612.18,1185.88 L1612.88,1185.08 L1613.58,1184.28 L1614.29,1183.48 L1614.99,1182.68 L1615.69,1181.88 L1616.40,1181.08 L1617.10,1180.27 L1617.80,1179.47 L1618.50,1178.66 L1619.21,1177.85 L1619.91,1177.05 L1620.61,1176.24 L1621.32,1175.43 L1622.02,1174.62 L1622.72,1173.81 L1623.43,1173.00 L1624.13,1172.18 L1624.83,1171.37 L1625.54,1170.56 L1626.24,1169.74 L1626.94,1168.93 L1627.65,1168.11 L1628.35,1167.29 L1629.05,1166.47 L1629.76,1165.66 L1630.46,1164.84 L1631.16,1164.02 L1631.87,1163.19 L1632.57,1162.37 L1633.27,1161.55 L1633.98,1160.72 L1634.68,1159.90 L1635.38,1159.07 L1636.09,1158.25 L1636.79,1157.42 L1637.49,1156.59 L1638.19,1155.76 L1638.90,1154.93 L1639.60,1154.10 L1640.30,1153.27 L1641.01,1152.44 L1641.71,1151.60 L1642.41,1150.77 L1643.12,1149.93 L1643.82,1149.10 L1644.52,1148.26 L1645.23,1147.42 L1645.93,1146.58 L1646.63,1145.74 L1647.34,1144.90 L1648.04,1144.06 L1648.74,1143.22 L1649.45,1142.37 L1650.15,1141.53 L1650.85,1140.69 L1651.56,1139.84 L1652.26,1138.99 L1652.96,1138.14 L1653.67,1137.30 L1654.37,1136.45 L1655.07,1135.60 L1655.77,1134.75 L1656.48,1133.89 L1657.18,1133.04 L1657.88,1132.19 L1658.59,1131.33 L1659.29,1130.47 L1659.99,1129.62 L1660.70,1128.76 L1661.40,1127.90 L1662.10,1127.04 L1662.81,1126.18 L1663.51,1125.32 L1664.21,1124.46 L1664.92,1123.59 L1665.62,1122.73 L1666.32,1121.87 L1667.03,1121.00 L1667.73,1120.13 L1668.43,1119.26 L1669.14,1118.40 L1669.84,1117.53 L1670.54,1116.66 L1671.25,1115.78 L1671.95,1114.91 L1672.65,1114.04 L1673.36,1113.16 L1674.06,1112.29 L1674.76,1111.41 L1675.46,1110.53 L1676.17,1109.66 L1676.87,1108.78 L1677.57,1107.90 L1678.28,1107.02 L1678.98,1106.13 L1679.68,1105.25 L1680.39,1104.37 L1681.09,1103.48 L1681.79,1102.60 L1682.50,1101.71 L1683.20,1100.82 L1683.90,1099.93 L1684.61,1099.04 L1685.31,1098.15 L1686.01,1097.26 L1686.72,1096.37 L1687.42,1095.47 L1688.12,1094.58 L1688.83,1093.68 L1689.53,1092.79 L1690.23,1091.89 L1690.94,1090.99 L1691.64,1090.09 L1692.34,1089.19 L1693.05,1088.29 L1693.75,1087.38 L1694.45,1086.48 L1695.15,1085.58 L1695.86,1084.67 L1696.56,1083.76 L1697.26,1082.86 L1697.97,1081.95 L1698.67,1081.04 L1699.37,1080.13 L1700.08,1079.21 L1700.78,1078.30 L1701.48,1077.39 L1702.19,1076.47 L1702.89,1075.56 L1703.59,1074.64 L1704.30,1073.72 L1705.00,1072.80 L1705.70,1071.88 L1706.41,1070.96 L1707.11,1070.04 L1707.81,1069.12 L1708.52,1068.19 L1709.22,1067.27 L1709.92,1066.34 L1710.63,1065.41 L1711.33,1064.48 L1712.03,1063.55 L1712.73,1062.62 L1713.44,1061.69 L1714.14,1060.76 L1714.84,1059.83 L1715.55,1058.89 L1716.25,1057.95 L1716.95,1057.02 L1717.66,1056.08 L1718.36,1055.14 L1719.06,1054.20 L1719.77,1053.26 L1720.47,1052.32 L1721.17,1051.37 L1721.88,1050.43 L1722.58,1049.48 L1723.28,1048.54 L1723.99,1047.59 L1724.69,1046.64 L1725.39,1045.69 L1726.10,1044.74 L1726.80,1043.79 L1727.50,1042.83 L1728.21,1041.88 L1728.91,1040.92 L1729.61,1039.97 L1730.32,1039.01 L1731.02,1038.05 L1731.72,1037.09 L1732.42,1036.13 L1733.13,1035.17 L1733.83,1034.20 L1734.53,1033.24 L1735.24,1032.27 L1735.94,1031.31 L1736.64,1030.34 L1737.35,1029.37 L1738.05,1028.40 L1738.75,1027.43 L1739.46,1026.45 L1740.16,1025.48 L1740.86,1024.51 L1741.57,1023.53 L1742.27,1022.55 L1742.97,1021.58 L1743.68,1020.60 L1744.38,1019.62 L1745.08,1018.63 L1745.79,1017.65 L1746.49,1016.67 L1747.19,1015.68 L1747.90,1014.69 L1748.60,1013.71 L1749.30,1012.72 L1750.01,1011.73 L1750.71,1010.74 L1751.41,1009.74 L1752.11,1008.75 L1752.82,1007.76 L1753.52,1006.76 L1754.22,1005.76 L1754.93,1004.76 L1755.63,1003.77 L1756.33,1002.76 L1757.04,1001.76 L1757.74,1000.76 L1758.44,999.75 L1759.15,998.75 L1759.85,997.74 L1760.55,996.73 L1761.26,995.72 L1761.96,994.71 L1762.66,993.70 L1763.37,992.69 L1764.07,991.68 L1764.77,990.66 L1765.48,989.64 L1766.18,988.63 L1766.88,987.61 L1767.59,986.59 L1768.29,985.56 L1768.99,984.54 L1769.69,983.52 L1770.40,982.49 L1771.10,981.46 L1771.80,980.44 L1772.51,979.41 L1773.21,978.38 L1773.91,977.34 L1774.62,976.31 L1775.32,975.28 L1776.02,974.24 L1776.73,973.20 L1777.43,972.17 L1778.13,971.13 L1778.84,970.09 L1779.54,969.04 L1780.24,968.00 L1780.95,966.95 L1781.65,965.91 L1782.35,964.86 L1783.06,963.81 L1783.76,962.76 L1784.46,961.71 L1785.17,960.66 L1785.87,959.60 L1786.57,958.55 L1787.28,957.49 L1787.98,956.43 L1788.68,955.38 L1789.38,954.31 L1790.09,953.25 L1790.79,952.19 L1791.49,951.12 L1792.20,950.06 L1792.90,948.99 L1793.60,947.92 L1794.31,946.85 L1795.01,945.78 L1795.71,944.71 L1796.42,943.63 L1797.12,942.56 L1797.82,941.48 L1798.53,940.40 L1799.23,939.32 L1799.93,938.24 L1800.64,937.16 L1801.34,936.07 L1802.04,934.99 L1802.75,933.90 L1803.45,932.81 L1804.15,931.72 L1804.86,930.63 L1805.56,929.54 L1806.26,928.45 L1806.96,927.35 L1807.67,926.25 L1808.37,925.16 L1809.07,924.06 L1809.78,922.96 L1810.48,921.85 L1811.18,920.75 L1811.89,919.64 L1812.59,918.54 L1813.29,917.43 L1814.00,916.32 L1814.70,915.21 L1815.40,914.09 L1816.11,912.98 L1816.81,911.86 L1817.51,910.75 L1818.22,909.63 L1818.92,908.51 L1819.62,907.39 L1820.33,906.26 L1821.03,905.14 L1821.73,904.01 L1822.44,902.89 L1823.14,901.76 L1823.84,900.63 L1824.55,899.49 L1825.25,898.36 L1825.95,897.23 L1826.65,896.09 L1827.36,894.95 L1828.06,893.81 L1828.76,892.67 L1829.47,891.53 L1830.17,890.38 L1830.87,889.24 L1831.58,888.09 L1832.28,886.94 L1832.98,885.79 L1833.69,884.64 L1834.39,883.48 L1835.09,882.33 L1835.80,881.17 L1836.50,880.01 L1837.20,878.85 L1837.91,877.69 L1838.61,876.53 L1839.31,875.37 L1840.02,874.20 L1840.72,873.03 L1841.42,871.86 L1842.13,870.69 L1842.83,869.52 L1843.53,868.34 L1844.24,867.17 L1844.94,865.99 L1845.64,864.81 L1846.34,863.63 L1847.05,862.45 L1847.75,861.26 L1848.45,860.08 L1849.16,858.89 L1849.86,857.70 L1850.56,856.51 L1851.27,855.32 L1851.97,854.12 L1852.67,852.93 L1853.38,851.73 L1854.08,850.53 L1854.78,849.33 L1855.49,848.13 L1856.19,846.92 L1856.89,845.72 L1857.60,844.51 L1858.30,843.30 L1859.00,842.09 L1859.71,840.88 L1860.41,839.66 L1861.11,838.45 L1861.82,837.23 L1862.52,836.01 L1863.22,834.79 L1863.92,833.56 L1864.63,832.34 L1865.33,831.11 L1866.03,829.88 L1866.74,828.65 L1867.44,827.42 L1868.14,826.19 L1868.85,824.95 L1869.55,823.71 L1870.25,822.48 L1870.96,821.23 L1871.66,819.99 L1872.36,818.75 L1873.07,817.50 L1873.77,816.25 L1874.47,815.00 L1875.18,813.75 L1875.88,812.50 L1876.58,811.24 L1877.29,809.99 L1877.99,808.73 L1878.69,807.47 L1879.40,806.20 L1880.10,804.94 L1880.80,803.67 L1881.51,802.40 L1882.21,801.13 L1882.91,799.86 L1883.61,798.59 L1884.32,797.31 L1885.02,796.03 L1885.72,794.75 L1886.43,793.47 L1887.13,792.19 L1887.83,790.90 L1888.54,789.62 L1889.24,788.33 L1889.94,787.04 L1890.65,785.74 L1891.35,784.45 L1892.05,783.15 L1892.76,781.85 L1893.46,780.55 L1894.16,779.25 L1894.87,777.94 L1895.57,776.64 L1896.27,775.33 L1896.98,774.02 L1897.68,772.70 L1898.38,771.39 L1899.09,770.07 L1899.79,768.75 L1900.49,767.43 L1901.20,766.11 L1901.90,764.79 L1902.60,763.46 L1903.30,762.13 L1904.01,760.80 L1904.71,759.47 L1905.41,758.13 L1906.12,756.79 L1906.82,755.46 L1907.52,754.11 L1908.23,752.77 L1908.93,751.43 L1909.63,750.08 L1910.34,748.73 L1911.04,747.38 L1911.74,746.02 L1912.45,744.67 L1913.15,743.31 L1913.85,741.95 L1914.56,740.59 L1915.26,739.22 L1915.96,737.86 L1916.67,736.49 L1917.37,735.12 L1918.07,733.74 L1918.78,732.37 L1919.48,730.99 L1920.18,729.61 L1920.88,728.23 L1921.59,726.85 L1922.29,725.46 L1922.99,724.07 L1923.70,722.68 L1924.40,721.29 L1925.10,719.89 L1925.81,718.50 L1926.51,717.10 L1927.21,715.70 L1927.92,714.29 L1928.62,712.89 L1929.32,711.48 L1930.03,710.07 L1930.73,708.65 L1931.43,707.24 L1932.14,705.82 L1932.84,704.40 L1933.54,702.98 L1934.25,701.56 L1934.95,700.13 L1935.65,698.70 L1936.36,697.27 L1937.06,695.83 L1937.76,694.40 L1938.47,692.96 L1939.17,691.52 L1939.87,690.08 L1940.57,688.63 L1941.28,687.18 L1941.98,685.73 L1942.68,684.28 L1943.39,682.82 L1944.09,681.37 L1944.79,679.91 L1945.50,678.44 L1946.20,676.98 L1946.90,675.51 L1947.61,674.04 L1948.31,672.57 L1949.01,671.09 L1949.72,669.62 L1950.42,668.14 L1951.12,666.65 L1951.83,665.17 L1952.53,663.68 L1953.23,662.19 L1953.94,660.70 L1954.64,659.21 L1955.34,657.71 L1956.05,656.21 L1956.75,654.71 L1957.45,653.20 L1958.16,651.69 L1958.86,650.18 L1959.56,648.67 L1960.26,647.15 L1960.97,645.64 L1961.67,644.12 L1962.37,642.59 L1963.08,641.07 L1963.78,639.54 L1964.48,638.01 L1965.19,636.47 L1965.89,634.94 L1966.59,633.40 L1967.30,631.86 L1968.00,630.31" stroke-width="11" stroke-dasharray="27 25" stroke-linecap="round"/>
<path d="M281.00,1991.00 L281.69,1990.77 L282.37,1990.54 L283.06,1990.30 L283.74,1990.07 L284.43,1989.84 L285.11,1989.60 L285.80,1989.37 L286.48,1989.14 L287.17,1988.90 L287.85,1988.67 L288.54,1988.44 L289.22,1988.20 L289.91,1987.97 L290.59,1987.73 L291.28,1987.50 L291.96,1987.26 L292.65,1987.03 L293.34,1986.79 L294.02,1986.56 L294.71,1986.32 L295.39,1986.09 L296.08,1985.85 L296.76,1985.61 L297.45,1985.38 L298.13,1985.14 L298.82,1984.90 L299.50,1984.67 L300.19,1984.43 L300.87,1984.19 L301.56,1983.96 L302.24,1983.72 L302.93,1983.48 L303.61,1983.24 L304.30,1983.00 L304.98,1982.77 L305.67,1982.53 L306.36,1982.29 L307.04,1982.05 L307.73,1981.81 L308.41,1981.57 L309.10,1981.33 L309.78,1981.09 L310.47,1980.85 L311.15,1980.61 L311.84,1980.37 L312.52,1980.13 L313.21,1979.89 L313.89,1979.65 L314.58,1979.41 L315.26,1979.17 L315.95,1978.93 L316.63,1978.69 L317.32,1978.45 L318.01,1978.20 L318.69,1977.96 L319.38,1977.72 L320.06,1977.48 L320.75,1977.23 L321.43,1976.99 L322.12,1976.75 L322.80,1976.51 L323.49,1976.26 L324.17,1976.02 L324.86,1975.78 L325.54,1975.53 L326.23,1975.29 L326.91,1975.04 L327.60,1974.80 L328.28,1974.56 L328.97,1974.31 L329.65,1974.07 L330.34,1973.82 L331.03,1973.58 L331.71,1973.33 L332.40,1973.08 L333.08,1972.84 L333.77,1972.59 L334.45,1972.35 L335.14,1972.10 L335.82,1971.85 L336.51,1971.61 L337.19,1971.36 L337.88,1971.11 L338.56,1970.87 L339.25,1970.62 L339.93,1970.37 L340.62,1970.12 L341.30,1969.87 L341.99,1969.63 L342.68,1969.38 L343.36,1969.13 L344.05,1968.88 L344.73,1968.63 L345.42,1968.38 L346.10,1968.13 L346.79,1967.88 L347.47,1967.63 L348.16,1967.38 L348.84,1967.13 L349.53,1966.88 L350.21,1966.63 L350.90,1966.38 L351.58,1966.13 L352.27,1965.88 L352.95,1965.63 L353.64,1965.38 L354.32,1965.13 L355.01,1964.87 L355.70,1964.62 L356.38,1964.37 L357.07,1964.12 L357.75,1963.86 L358.44,1963.61 L359.12,1963.36 L359.81,1963.11 L360.49,1962.85 L361.18,1962.60 L361.86,1962.35 L362.55,1962.09 L363.23,1961.84 L363.92,1961.58 L364.60,1961.33 L365.29,1961.07 L365.97,1960.82 L366.66,1960.56 L367.35,1960.31 L368.03,1960.05 L368.72,1959.80 L369.40,1959.54 L370.09,1959.28 L370.77,1959.03 L371.46,1958.77 L372.14,1958.52 L372.83,1958.26 L373.51,1958.00 L374.20,1957.74 L374.88,1957.49 L375.57,1957.23 L376.25,1956.97 L376.94,1956.71 L377.62,1956.46 L378.31,1956.20 L378.99,1955.94 L379.68,1955.68 L380.37,1955.42 L381.05,1955.16 L381.74,1954.90 L382.42,1954.64 L383.11,1954.38 L383.79,1954.12 L384.48,1953.86 L385.16,1953.60 L385.85,1953.34 L386.53,1953.08 L387.22,1952.82 L387.90,1952.56 L388.59,1952.30 L389.27,1952.03 L389.96,1951.77 L390.64,1951.51 L391.33,1951.25 L392.02,1950.99 L392.70,1950.72 L393.39,1950.46 L394.07,1950.20 L394.76,1949.93 L395.44,1949.67 L396.13,1949.41 L396.81,1949.14 L397.50,1948.88 L398.18,1948.62 L398.87,1948.35 L399.55,1948.09 L400.24,1947.82 L400.92,1947.56 L401.61,1947.29 L402.29,1947.03 L402.98,1946.76 L403.66,1946.49 L404.35,1946.23 L405.04,1945.96 L405.72,1945.69 L406.41,1945.43 L407.09,1945.16 L407.78,1944.89 L408.46,1944.63 L409.15,1944.36 L409.83,1944.09 L410.52,1943.82 L411.20,1943.56 L411.89,1943.29 L412.57,1943.02 L413.26,1942.75 L413.94,1942.48 L414.63,1942.21 L415.31,1941.94 L416.00,1941.67 L416.69,1941.40 L417.37,1941.13 L418.06,1940.86 L418.74,1940.59 L419.43,1940.32 L420.11,1940.05 L420.80,1939.78 L421.48,1939.51 L422.17,1939.24 L422.85,1938.97 L423.54,1938.69 L424.22,1938.42 L424.91,1938.15 L425.59,1937.88 L426.28,1937.60 L426.96,1937.33 L427.65,1937.06 L428.33,1936.79 L429.02,1936.51 L429.71,1936.24 L430.39,1935.96 L431.08,1935.69 L431.76,1935.42 L432.45,1935.14 L433.13,1934.87 L433.82,1934.59 L434.50,1934.32 L435.19,1934.04 L435.87,1933.76 L436.56,1933.49 L437.24,1933.21 L437.93,1932.94 L438.61,1932.66 L439.30,1932.38 L439.98,1932.11 L440.67,1931.83 L441.36,1931.55 L442.04,1931.27 L442.73,1931.00 L443.41,1930.72 L444.10,1930.44 L444.78,1930.16 L445.47,1929.88 L446.15,1929.60 L446.84,1929.33 L447.52,1929.05 L448.21,1928.77 L448.89,1928.49 L449.58,1928.21 L450.26,1927.93 L450.95,1927.65 L451.63,1927.37 L452.32,1927.08 L453.00,1926.80 L453.69,1926.52 L454.38,1926.24 L455.06,1925.96 L455.75,1925.68 L456.43,1925.40 L457.12,1925.11 L457.80,1924.83 L458.49,1924.55 L459.17,1924.26 L459.86,1923.98 L460.54,1923.70 L461.23,1923.41 L461.91,1923.13 L462.60,1922.85 L463.28,1922.56 L463.97,1922.28 L464.65,1921.99 L465.34,1921.71 L466.03,1921.42 L466.71,1921.14 L467.40,1920.85 L468.08,1920.57 L468.77,1920.28 L469.45,1919.99 L470.14,1919.71 L470.82,1919.42 L471.51,1919.13 L472.19,1918.85 L472.88,1918.56 L473.56,1918.27 L474.25,1917.98 L474.93,1917.69 L475.62,1917.41 L476.30,1917.12 L476.99,1916.83 L477.67,1916.54 L478.36,1916.25 L479.05,1915.96 L479.73,1915.67 L480.42,1915.38 L481.10,1915.09 L481.79,1914.80 L482.47,1914.51 L483.16,1914.22 L483.84,1913.93 L484.53,1913.64 L485.21,1913.35 L485.90,1913.05 L486.58,1912.76 L487.27,1912.47 L487.95,1912.18 L488.64,1911.88 L489.32,1911.59 L490.01,1911.30 L490.70,1911.01 L491.38,1910.71 L492.07,1910.42 L492.75,1910.12 L493.44,1909.83 L494.12,1909.53 L494.81,1909.24 L495.49,1908.95 L496.18,1908.65 L496.86,1908.35 L497.55,1908.06 L498.23,1907.76 L498.92,1907.47 L499.60,1907.17 L500.29,1906.87 L500.97,1906.58 L501.66,1906.28 L502.34,1905.98 L503.03,1905.69 L503.72,1905.39 L504.40,1905.09 L505.09,1904.79 L505.77,1904.49 L506.46,1904.19 L507.14,1903.90 L507.83,1903.60 L508.51,1903.30 L509.20,1903.00 L509.88,1902.70 L510.57,1902.40 L511.25,1902.10 L511.94,1901.80 L512.62,1901.50 L513.31,1901.20 L513.99,1900.89 L514.68,1900.59 L515.37,1900.29 L516.05,1899.99 L516.74,1899.69 L517.42,1899.38 L518.11,1899.08 L518.79,1898.78 L519.48,1898.48 L520.16,1898.17 L520.85,1897.87 L521.53,1897.56 L522.22,1897.26 L522.90,1896.96 L523.59,1896.65 L524.27,1896.35 L524.96,1896.04 L525.64,1895.74 L526.33,1895.43 L527.01,1895.12 L527.70,1894.82 L528.39,1894.51 L529.07,1894.21 L529.76,1893.90 L530.44,1893.59 L531.13,1893.28 L531.81,1892.98 L532.50,1892.67 L533.18,1892.36 L533.87,1892.05 L534.55,1891.74 L535.24,1891.44 L535.92,1891.13 L536.61,1890.82 L537.29,1890.51 L537.98,1890.20 L538.66,1889.89 L539.35,1889.58 L540.04,1889.27 L540.72,1888.96 L541.41,1888.65 L542.09,1888.34 L542.78,1888.02 L543.46,1887.71 L544.15,1887.40 L544.83,1887.09 L545.52,1886.78 L546.20,1886.46 L546.89,1886.15 L547.57,1885.84 L548.26,1885.52 L548.94,1885.21 L549.63,1884.90 L550.31,1884.58 L551.00,1884.27 L551.68,1883.95 L552.37,1883.64 L553.06,1883.32 L553.74,1883.01 L554.43,1882.69 L555.11,1882.38 L555.80,1882.06 L556.48,1881.74 L557.17,1881.43 L557.85,1881.11 L558.54,1880.79 L559.22,1880.48 L559.91,1880.16 L560.59,1879.84 L561.28,1879.52 L561.96,1879.20 L562.65,1878.88 L563.33,1878.57 L564.02,1878.25 L564.71,1877.93 L565.39,1877.61 L566.08,1877.29 L566.76,1876.97 L567.45,1876.65 L568.13,1876.33 L568.82,1876.00 L569.50,1875.68 L570.19,1875.36 L570.87,1875.04 L571.56,1874.72 L572.24,1874.40 L572.93,1874.07 L573.61,1873.75 L574.30,1873.43 L574.98,1873.10 L575.67,1872.78 L576.35,1872.46 L577.04,1872.13 L577.73,1871.81 L578.41,1871.48 L579.10,1871.16 L579.78,1870.83 L580.47,1870.51 L581.15,1870.18 L581.84,1869.86 L582.52,1869.53 L583.21,1869.20 L583.89,1868.88 L584.58,1868.55 L585.26,1868.22 L585.95,1867.90 L586.63,1867.57 L587.32,1867.24 L588.00,1866.91 L588.69,1866.58 L589.38,1866.25 L590.06,1865.93 L590.75,1865.60 L591.43,1865.27 L592.12,1864.94 L592.80,1864.61 L593.49,1864.28 L594.17,1863.95 L594.86,1863.61 L595.54,1863.28 L596.23,1862.95 L596.91,1862.62 L597.60,1862.29 L598.28,1861.96 L598.97,1861.62 L599.65,1861.29 L600.34,1860.96 L601.02,1860.62 L601.71,1860.29 L602.40,1859.96 L603.08,1859.62 L603.77,1859.29 L604.45,1858.95 L605.14,1858.62 L605.82,1858.28 L606.51,1857.95 L607.19,1857.61 L607.88,1857.28 L608.56,1856.94 L609.25,1856.60 L609.93,1856.27 L610.62,1855.93 L611.30,1855.59 L611.99,1855.25 L612.67,1854.92 L613.36,1854.58 L614.05,1854.24 L614.73,1853.90 L615.42,1853.56 L616.10,1853.22 L616.79,1852.88 L617.47,1852.54 L618.16,1852.20 L618.84,1851.86 L619.53,1851.52 L620.21,1851.18 L620.90,1850.84 L621.58,1850.50 L622.27,1850.16 L622.95,1849.81 L623.64,1849.47 L624.32,1849.13 L625.01,1848.79 L625.69,1848.44 L626.38,1848.10 L627.07,1847.75 L627.75,1847.41 L628.44,1847.07 L629.12,1846.72 L629.81,1846.38 L630.49,1846.03 L631.18,1845.69 L631.86,1845.34 L632.55,1844.99 L633.23,1844.65 L633.92,1844.30 L634.60,1843.95 L635.29,1843.61 L635.97,1843.26 L636.66,1842.91 L637.34,1842.56 L638.03,1842.22 L638.72,1841.87 L639.40,1841.52 L640.09,1841.17 L640.77,1840.82 L641.46,1840.47 L642.14,1840.12 L642.83,1839.77 L643.51,1839.42 L644.20,1839.07 L644.88,1838.72 L645.57,1838.37 L646.25,1838.01 L646.94,1837.66 L647.62,1837.31 L648.31,1836.96 L648.99,1836.60 L649.68,1836.25 L650.36,1835.90 L651.05,1835.54 L651.74,1835.19 L652.42,1834.84 L653.11,1834.48 L653.79,1834.13 L654.48,1833.77 L655.16,1833.42 L655.85,1833.06 L656.53,1832.70 L657.22,1832.35 L657.90,1831.99 L658.59,1831.63 L659.27,1831.28 L659.96,1830.92 L660.64,1830.56 L661.33,1830.20 L662.01,1829.84 L662.70,1829.49 L663.39,1829.13 L664.07,1828.77 L664.76,1828.41 L665.44,1828.05 L666.13,1827.69 L666.81,1827.33 L667.50,1826.97 L668.18,1826.60 L668.87,1826.24 L669.55,1825.88 L670.24,1825.52 L670.92,1825.16 L671.61,1824.79 L672.29,1824.43 L672.98,1824.07 L673.66,1823.71 L674.35,1823.34 L675.03,1822.98 L675.72,1822.61 L676.41,1822.25 L677.09,1821.88 L677.78,1821.52 L678.46,1821.15 L679.15,1820.79 L679.83,1820.42 L680.52,1820.05 L681.20,1819.69 L681.89,1819.32 L682.57,1818.95 L683.26,1818.58 L683.94,1818.22 L684.63,1817.85 L685.31,1817.48 L686.00,1817.11 L686.68,1816.74 L687.37,1816.37 L688.06,1816.00 L688.74,1815.63 L689.43,1815.26 L690.11,1814.89 L690.80,1814.52 L691.48,1814.15 L692.17,1813.77 L692.85,1813.40 L693.54,1813.03 L694.22,1812.66 L694.91,1812.28 L695.59,1811.91 L696.28,1811.54 L696.96,1811.16 L697.65,1810.79 L698.33,1810.41 L699.02,1810.04 L699.70,1809.66 L700.39,1809.29 L701.08,1808.91 L701.76,1808.54 L702.45,1808.16 L703.13,1807.78 L703.82,1807.41 L704.50,1807.03 L705.19,1806.65 L705.87,1806.27 L706.56,1805.89 L707.24,1805.52 L707.93,1805.14 L708.61,1804.76 L709.30,1804.38 L709.98,1804.00 L710.67,1803.62 L711.35,1803.24 L712.04,1802.86 L712.73,1802.48 L713.41,1802.09 L714.10,1801.71 L714.78,1801.33 L715.47,1800.95 L716.15,1800.56 L716.84,1800.18 L717.52,1799.80 L718.21,1799.41 L718.89,1799.03 L719.58,1798.64 L720.26,1798.26 L720.95,1797.87 L721.63,1797.49 L722.32,1797.10 L723.00,1796.72 L723.69,1796.33 L724.37,1795.94 L725.06,1795.56 L725.75,1795.17 L726.43,1794.78 L727.12,1794.39 L727.80,1794.01 L728.49,1793.62 L729.17,1793.23 L729.86,1792.84 L730.54,1792.45 L731.23,1792.06 L731.91,1791.67 L732.60,1791.28 L733.28,1790.89 L733.97,1790.50 L734.65,1790.10 L735.34,1789.71 L736.02,1789.32 L736.71,1788.93 L737.40,1788.53 L738.08,1788.14 L738.77,1787.75 L739.45,1787.35 L740.14,1786.96 L740.82,1786.56 L741.51,1786.17 L742.19,1785.77 L742.88,1785.38 L743.56,1784.98 L744.25,1784.58 L744.93,1784.19 L745.62,1783.79 L746.30,1783.39 L746.99,1783.00 L747.67,1782.60 L748.36,1782.20 L749.04,1781.80 L749.73,1781.40 L750.42,1781.00 L751.10,1780.60 L751.79,1780.20 L752.47,1779.80 L753.16,1779.40 L753.84,1779.00 L754.53,1778.60 L755.21,1778.20 L755.90,1777.79 L756.58,1777.39 L757.27,1776.99 L757.95,1776.58 L758.64,1776.18 L759.32,1775.78 L760.01,1775.37 L760.69,1774.97 L761.38,1774.56 L762.07,1774.16 L762.75,1773.75 L763.44,1773.35 L764.12,1772.94 L764.81,1772.53 L765.49,1772.13 L766.18,1771.72 L766.86,1771.31 L767.55,1770.90 L768.23,1770.49 L768.92,1770.08 L769.60,1769.68 L770.29,1769.27 L770.97,1768.86 L771.66,1768.45 L772.34,1768.03 L773.03,1767.62 L773.71,1767.21 L774.40,1766.80 L775.09,1766.39 L775.77,1765.98 L776.46,1765.56 L777.14,1765.15 L777.83,1764.74 L778.51,1764.32 L779.20,1763.91 L779.88,1763.49 L780.57,1763.08 L781.25,1762.66 L781.94,1762.25 L782.62,1761.83 L783.31,1761.42 L783.99,1761.00 L784.68,1760.58 L785.36,1760.16 L786.05,1759.75 L786.74,1759.33 L787.42,1758.91 L788.11,1758.49 L788.79,1758.07 L789.48,1757.65 L790.16,1757.23 L790.85,1756.81 L791.53,1756.39 L792.22,1755.97 L792.90,1755.55 L793.59,1755.13 L794.27,1754.70 L794.96,1754.28 L795.64,1753.86 L796.33,1753.44 L797.01,1753.01 L797.70,1752.59 L798.38,1752.16 L799.07,1751.74 L799.76,1751.31 L800.44,1750.89 L801.13,1750.46 L801.81,1750.04 L802.50,1749.61 L803.18,1749.18 L803.87,1748.75 L804.55,1748.33 L805.24,1747.90 L805.92,1747.47 L806.61,1747.04 L807.29,1746.61 L807.98,1746.18 L808.66,1745.75 L809.35,1745.32 L810.03,1744.89 L810.72,1744.46 L811.41,1744.03 L812.09,1743.60 L812.78,1743.16 L813.46,1742.73 L814.15,1742.30 L814.83,1741.86 L815.52,1741.43 L816.20,1741.00 L816.89,1740.56 L817.57,1740.13 L818.26,1739.69 L818.94,1739.26 L819.63,1738.82 L820.31,1738.38 L821.00,1737.95 L821.68,1737.51 L822.37,1737.07 L823.05,1736.63 L823.74,1736.19 L824.43,1735.76 L825.11,1735.32 L825.80,1734.88 L826.48,1734.44 L827.17,1734.00 L827.85,1733.56 L828.54,1733.11 L829.22,1732.67 L829.91,1732.23 L830.59,1731.79 L831.28,1731.34 L831.96,1730.90 L832.65,1730.46 L833.33,1730.01 L834.02,1729.57 L834.70,1729.12 L835.39,1728.68 L836.08,1728.23 L836.76,1727.79 L837.45,1727.34 L838.13,1726.89 L838.82,1726.45 L839.50,1726.00 L840.19,1725.55 L840.87,1725.10 L841.56,1724.66 L842.24,1724.21 L842.93,1723.76 L843.61,1723.31 L844.30,1722.86 L844.98,1722.41 L845.67,1721.95 L846.35,1721.50 L847.04,1721.05 L847.72,1720.60 L848.41,1720.14 L849.10,1719.69 L849.78,1719.24 L850.47,1718.78 L851.15,1718.33 L851.84,1717.87 L852.52,1717.42 L853.21,1716.96 L853.89,1716.51 L854.58,1716.05 L855.26,1715.59 L855.95,1715.14 L856.63,1714.68 L857.32,1714.22 L858.00,1713.76 L858.69,1713.30 L859.37,1712.84 L860.06,1712.38 L860.75,1711.92 L861.43,1711.46 L862.12,1711.00 L862.80,1710.54 L863.49,1710.08 L864.17,1709.62 L864.86,1709.15 L865.54,1708.69 L866.23,1708.23 L866.91,1707.76 L867.60,1707.30 L868.28,1706.83 L868.97,1706.37 L869.65,1705.90 L870.34,1705.44 L871.02,1704.97 L871.71,1704.50 L872.39,1704.04 L873.08,1703.57 L873.77,1703.10 L874.45,1702.63 L875.14,1702.16 L875.82,1701.69 L876.51,1701.22 L877.19,1700.75 L877.88,1700.28 L878.56,1699.81 L879.25,1699.34 L879.93,1698.87 L880.62,1698.39 L881.30,1697.92 L881.99,1697.45 L882.67,1696.97 L883.36,1696.50 L884.04,1696.02 L884.73,1695.55 L885.42,1695.07 L886.10,1694.60 L886.79,1694.12 L887.47,1693.64 L888.16,1693.17 L888.84,1692.69 L889.53,1692.21 L890.21,1691.73 L890.90,1691.25 L891.58,1690.77 L892.27,1690.29 L892.95,1689.81 L893.64,1689.33 L894.32,1688.85 L895.01,1688.37 L895.69,1687.89 L896.38,1687.40 L897.06,1686.92 L897.75,1686.44 L898.44,1685.95 L899.12,1685.47 L899.81,1684.98 L900.49,1684.50 L901.18,1684.01 L901.86,1683.53 L902.55,1683.04 L903.23,1682.55 L903.92,1682.07 L904.60,1681.58 L905.29,1681.09 L905.97,1680.60 L906.66,1680.11 L907.34,1679.62 L908.03,1679.13 L908.71,1678.64 L909.40,1678.15 L910.09,1677.66 L910.77,1677.16 L911.46,1676.67 L912.14,1676.18 L912.83,1675.69 L913.51,1675.19 L914.20,1674.70 L914.88,1674.20 L915.57,1673.71 L916.25,1673.21 L916.94,1672.71 L917.62,1672.22 L918.31,1671.72 L918.99,1671.22 L919.68,1670.72 L920.36,1670.23 L921.05,1669.73 L921.73,1669.23 L922.42,1668.73 L923.11,1668.23 L923.79,1667.73 L924.48,1667.22 L925.16,1666.72 L925.85,1666.22 L926.53,1665.72 L927.22,1665.21 L927.90,1664.71 L928.59,1664.21 L929.27,1663.70 L929.96,1663.20 L930.64,1662.69 L931.33,1662.18 L932.01,1661.68 L932.70,1661.17 L933.38,1660.66 L934.07,1660.15 L934.76,1659.65 L935.44,1659.14 L936.13,1658.63 L936.81,1658.12 L937.50,1657.61 L938.18,1657.10 L938.87,1656.58 L939.55,1656.07 L940.24,1655.56 L940.92,1655.05 L941.61,1654.53 L942.29,1654.02 L942.98,1653.51 L943.66,1652.99 L944.35,1652.47 L945.03,1651.96 L945.72,1651.44 L946.40,1650.93 L947.09,1650.41 L947.78,1649.89 L948.46,1649.37 L949.15,1648.85 L949.83,1648.33 L950.52,1647.81 L951.20,1647.29 L951.89,1646.77 L952.57,1646.25 L953.26,1645.73 L953.94,1645.21 L954.63,1644.68 L955.31,1644.16 L956.00,1643.64 L956.68,1643.11 L957.37,1642.59 L958.05,1642.06 L958.74,1641.54 L959.43,1641.01 L960.11,1640.48 L960.80,1639.96 L961.48,1639.43 L962.17,1638.90 L962.85,1638.37 L963.54,1637.84 L964.22,1637.31 L964.91,1636.78 L965.59,1636.25 L966.28,1635.72 L966.96,1635.19 L967.65,1634.66 L968.33,1634.12 L969.02,1633.59 L969.70,1633.05 L970.39,1632.52 L971.07,1631.99 L971.76,1631.45 L972.45,1630.91 L973.13,1630.38 L973.82,1629.84 L974.50,1629.30 L975.19,1628.76 L975.87,1628.23 L976.56,1627.69 L977.24,1627.15 L977.93,1626.61 L978.61,1626.07 L979.30,1625.52 L979.98,1624.98 L980.67,1624.44 L981.35,1623.90 L982.04,1623.35 L982.72,1622.81 L983.41,1622.26 L984.10,1621.72 L984.78,1621.17 L985.47,1620.63 L986.15,1620.08 L986.84,1619.53 L987.52,1618.99 L988.21,1618.44 L988.89,1617.89 L989.58,1617.34 L990.26,1616.79 L990.95,1616.24 L991.63,1615.69 L992.32,1615.14 L993.00,1614.59 L993.69,1614.03 L994.37,1613.48 L995.06,1612.93 L995.74,1612.37 L996.43,1611.82 L997.12,1611.26 L997.80,1610.71 L998.49,1610.15 L999.17,1609.59 L999.86,1609.04 L1000.54,1608.48 L1001.23,1607.92 L1001.91,1607.36 L1002.60,1606.80 L1003.28,1606.24 L1003.97,1605.68 L1004.65,1605.12 L1005.34,1604.56 L1006.02,1603.99 L1006.71,1603.43 L1007.39,1602.87 L1008.08,1602.30 L1008.77,1601.74 L1009.45,1601.17 L1010.14,1600.61 L1010.82,1600.04 L1011.51,1599.47 L1012.19,1598.91 L1012.88,1598.34 L1013.56,1597.77 L1014.25,1597.20 L1014.93,1596.63 L1015.62,1596.06 L1016.30,1595.49 L1016.99,1594.92 L1017.67,1594.34 L1018.36,1593.77 L1019.04,1593.20 L1019.73,1592.62 L1020.41,1592.05 L1021.10,1591.48 L1021.79,1590.90 L1022.47,1590.32 L1023.16,1589.75 L1023.84,1589.17 L1024.53,1588.59 L1025.21,1588.01 L1025.90,1587.43 L1026.58,1586.85 L1027.27,1586.27 L1027.95,1585.69 L1028.64,1585.11 L1029.32,1584.53 L1030.01,1583.95 L1030.69,1583.36 L1031.38,1582.78 L1032.06,1582.20 L1032.75,1581.61 L1033.44,1581.03 L1034.12,1580.44 L1034.81,1579.85 L1035.49,1579.27 L1036.18,1578.68 L1036.86,1578.09 L1037.55,1577.50 L1038.23,1576.91 L1038.92,1576.32 L1039.60,1575.73 L1040.29,1575.14 L1040.97,1574.55 L1041.66,1573.95 L1042.34,1573.36 L1043.03,1572.77 L1043.71,1572.17 L1044.40,1571.58 L1045.08,1570.98 L1045.77,1570.38 L1046.46,1569.79 L1047.14,1569.19 L1047.83,1568.59 L1048.51,1567.99 L1049.20,1567.39 L1049.88,1566.79 L1050.57,1566.19 L1051.25,1565.59 L1051.94,1564.99 L1052.62,1564.39 L1053.31,1563.78 L1053.99,1563.18 L1054.68,1562.58 L1055.36,1561.97 L1056.05,1561.37 L1056.73,1560.76 L1057.42,1560.15 L1058.11,1559.54 L1058.79,1558.94 L1059.48,1558.33 L1060.16,1557.72 L1060.85,1557.11 L1061.53,1556.50 L1062.22,1555.89 L1062.90,1555.27 L1063.59,1554.66 L1064.27,1554.05 L1064.96,1553.44 L1065.64,1552.82 L1066.33,1552.21 L1067.01,1551.59 L1067.70,1550.97 L1068.38,1550.36 L1069.07,1549.74 L1069.75,1549.12 L1070.44,1548.50 L1071.13,1547.88 L1071.81,1547.26 L1072.50,1546.64 L1073.18,1546.02 L1073.87,1545.40 L1074.55,1544.77 L1075.24,1544.15 L1075.92,1543.53 L1076.61,1542.90 L1077.29,1542.28 L1077.98,1541.65 L1078.66,1541.02 L1079.35,1540.40 L1080.03,1539.77 L1080.72,1539.14 L1081.40,1538.51 L1082.09,1537.88 L1082.78,1537.25 L1083.46,1536.62 L1084.15,1535.99 L1084.83,1535.35 L1085.52,1534.72 L1086.20,1534.09 L1086.89,1533.45 L1087.57,1532.82 L1088.26,1532.18 L1088.94,1531.54 L1089.63,1530.91 L1090.31,1530.27 L1091.00,1529.63 L1091.68,1528.99 L1092.37,1528.35 L1093.05,1527.71 L1093.74,1527.07 L1094.42,1526.42 L1095.11,1525.78 L1095.80,1525.14 L1096.48,1524.49 L1097.17,1523.85 L1097.85,1523.20 L1098.54,1522.56 L1099.22,1521.91 L1099.91,1521.26 L1100.59,1520.61 L1101.28,1519.96 L1101.96,1519.31 L1102.65,1518.66 L1103.33,1518.01 L1104.02,1517.36 L1104.70,1516.71 L1105.39,1516.06 L1106.07,1515.40 L1106.76,1514.75 L1107.45,1514.09 L1108.13,1513.43 L1108.82,1512.78 L1109.50,1512.12 L1110.19,1511.46 L1110.87,1510.80 L1111.56,1510.14 L1112.24,1509.48 L1112.93,1508.82 L1113.61,1508.16 L1114.30,1507.50 L1114.98,1506.83 L1115.67,1506.17 L1116.35,1505.51 L1117.04,1504.84 L1117.72,1504.17 L1118.41,1503.51 L1119.09,1502.84 L1119.78,1502.17 L1120.47,1501.50 L1121.15,1500.83 L1121.84,1500.16 L1122.52,1499.49 L1123.21,1498.82 L1123.89,1498.15 L1124.58,1497.47 L1125.26,1496.80 L1125.95,1496.12 L1126.63,1495.45 L1127.32,1494.77 L1128.00,1494.10 L1128.69,1493.42 L1129.37,1492.74 L1130.06,1492.06 L1130.74,1491.38 L1131.43,1490.70 L1132.12,1490.02 L1132.80,1489.33 L1133.49,1488.65 L1134.17,1487.97 L1134.86,1487.28 L1135.54,1486.60 L1136.23,1485.91 L1136.91,1485.23 L1137.60,1484.54 L1138.28,1483.85 L1138.97,1483.16 L1139.65,1482.47 L1140.34,1481.78 L1141.02,1481.09 L1141.71,1480.40 L1142.39,1479.70 L1143.08,1479.01 L1143.76,1478.31 L1144.45,1477.62 L1145.14,1476.92 L1145.82,1476.23 L1146.51,1475.53 L1147.19,1474.83 L1147.88,1474.13 L1148.56,1473.43 L1149.25,1472.73 L1149.93,1472.03 L1150.62,1471.33 L1151.30,1470.62 L1151.99,1469.92 L1152.67,1469.21 L1153.36,1468.51 L1154.04,1467.80 L1154.73,1467.10 L1155.41,1466.39 L1156.10,1465.68 L1156.79,1464.97 L1157.47,1464.26 L1158.16,1463.55 L1158.84,1462.84 L1159.53,1462.12 L1160.21,1461.41 L1160.90,1460.70 L1161.58,1459.98 L1162.27,1459.27 L1162.95,1458.55 L1163.64,1457.83 L1164.32,1457.11 L1165.01,1456.39 L1165.69,1455.67 L1166.38,1454.95 L1167.06,1454.23 L1167.75,1453.51 L1168.43,1452.79 L1169.12,1452.06 L1169.81,1451.34 L1170.49,1450.61 L1171.18,1449.88 L1171.86,1449.16 L1172.55,1448.43 L1173.23,1447.70 L1173.92,1446.97 L1174.60,1446.24 L1175.29,1445.51 L1175.97,1444.78 L1176.66,1444.04 L1177.34,1443.31 L1178.03,1442.57 L1178.71,1441.84 L1179.40,1441.10 L1180.08,1440.36 L1180.77,1439.62 L1181.46,1438.89 L1182.14,1438.15 L1182.83,1437.40 L1183.51,1436.66 L1184.20,1435.92 L1184.88,1435.18 L1185.57,1434.43 L1186.25,1433.69 L1186.94,1432.94 L1187.62,1432.19 L1188.31,1431.45 L1188.99,1430.70 L1189.68,1429.95 L1190.36,1429.20 L1191.05,1428.45 L1191.73,1427.69 L1192.42,1426.94 L1193.10,1426.19 L1193.79,1425.43 L1194.48,1424.68 L1195.16,1423.92 L1195.85,1423.16 L1196.53,1422.41 L1197.22,1421.65 L1197.90,1420.89 L1198.59,1420.12 L1199.27,1419.36 L1199.96,1418.60 L1200.64,1417.84 L1201.33,1417.07 L1202.01,1416.31 L1202.70,1415.54 L1203.38,1414.77 L1204.07,1414.00 L1204.75,1413.24 L1205.44,1412.47 L1206.13,1411.69 L1206.81,1410.92 L1207.50,1410.15 L1208.18,1409.38 L1208.87,1408.60 L1209.55,1407.83 L1210.24,1407.05 L1210.92,1406.27 L1211.61,1405.49 L1212.29,1404.71 L1212.98,1403.93 L1213.66,1403.15 L1214.35,1402.37 L1215.03,1401.59 L1215.72,1400.80 L1216.40,1400.02 L1217.09,1399.23 L1217.77,1398.45 L1218.46,1397.66 L1219.15,1396.87 L1219.83,1396.08 L1220.52,1395.29 L1221.20,1394.50 L1221.89,1393.71 L1222.57,1392.91 L1223.26,1392.12 L1223.94,1391.32 L1224.63,1390.53 L1225.31,1389.73 L1226.00,1388.93 L1226.68,1388.13 L1227.37,1387.33 L1228.05,1386.53 L1228.74,1385.73 L1229.42,1384.93 L1230.11,1384.12 L1230.80,1383.32 L1231.48,1382.51 L1232.17,1381.71 L1232.85,1380.90 L1233.54,1380.09 L1234.22,1379.28 L1234.91,1378.47 L1235.59,1377.66 L1236.28,1376.84 L1236.96,1376.03 L1237.65,1375.22 L1238.33,1374.40 L1239.02,1373.58 L1239.70,1372.77 L1240.39,1371.95 L1241.07,1371.13 L1241.76,1370.31 L1242.44,1369.48 L1243.13,1368.66 L1243.82,1367.84 L1244.50,1367.01 L1245.19,1366.19 L1245.87,1365.36 L1246.56,1364.53 L1247.24,1363.70 L1247.93,1362.87 L1248.61,1362.04 L1249.30,1361.21 L1249.98,1360.38 L1250.67,1359.54 L1251.35,1358.71 L1252.04,1357.87 L1252.72,1357.03 L1253.41,1356.19 L1254.09,1355.36 L1254.78,1354.52 L1255.47,1353.67 L1256.15,1352.83 L1256.84,1351.99 L1257.52,1351.14 L1258.21,1350.30 L1258.89,1349.45 L1259.58,1348.60 L1260.26,1347.75 L1260.95,1346.90 L1261.63,1346.05 L1262.32,1345.20 L1263.00,1344.35 L1263.69,1343.49 L1264.37,1342.64 L1265.06,1341.78 L1265.74,1340.92 L1266.43,1340.07 L1267.11,1339.21 L1267.80,1338.35 L1268.49,1337.48 L1269.17,1336.62 L1269.86,1335.76 L1270.54,1334.89 L1271.23,1334.03 L1271.91,1333.16 L1272.60,1332.29 L1273.28,1331.42 L1273.97,1330.55 L1274.65,1329.68 L1275.34,1328.80 L1276.02,1327.93 L1276.71,1327.06 L1277.39,1326.18 L1278.08,1325.30 L1278.76,1324.42 L1279.45,1323.54 L1280.14,1322.66 L1280.82,1321.78 L1281.51,1320.90 L1282.19,1320.01 L1282.88,1319.13 L1283.56,1318.24 L1284.25,1317.35 L1284.93,1316.47 L1285.62,1315.58 L1286.30,1314.68 L1286.99,1313.79 L1287.67,1312.90 L1288.36,1312.00 L1289.04,1311.11 L1289.73,1310.21 L1290.41,1309.31 L1291.10,1308.42 L1291.78,1307.51 L1292.47,1306.61 L1293.16,1305.71 L1293.84,1304.81 L1294.53,1303.90 L1295.21,1303.00 L1295.90,1302.09 L1296.58,1301.18 L1297.27,1300.27 L1297.95,1299.36 L1298.64,1298.45 L1299.32,1297.53 L1300.01,1296.62 L1300.69,1295.70 L1301.38,1294.78 L1302.06,1293.87 L1302.75,1292.95 L1303.43,1292.03 L1304.12,1291.10 L1304.81,1290.18 L1305.49,1289.26 L1306.18,1288.33 L1306.86,1287.40 L1307.55,1286.48 L1308.23,1285.55 L1308.92,1284.62 L1309.60,1283.68 L1310.29,1282.75 L1310.97,1281.82 L1311.66,1280.88 L1312.34,1279.94 L1313.03,1279.01 L1313.71,1278.07 L1314.40,1277.13 L1315.08,1276.18 L1315.77,1275.24 L1316.45,1274.30 L1317.14,1273.35 L1317.83,1272.40 L1318.51,1271.46 L1319.20,1270.51 L1319.88,1269.56 L1320.57,1268.60 L1321.25,1267.65 L1321.94,1266.70 L1322.62,1265.74 L1323.31,1264.78 L1323.99,1263.82 L1324.68,1262.86 L1325.36,1261.90 L1326.05,1260.94 L1326.73,1259.98 L1327.42,1259.01 L1328.10,1258.04 L1328.79,1257.08 L1329.48,1256.11 L1330.16,1255.14 L1330.85,1254.17 L1331.53,1253.19 L1332.22,1252.22 L1332.90,1251.24 L1333.59,1250.26 L1334.27,1249.29 L1334.96,1248.31 L1335.64,1247.32 L1336.33,1246.34 L1337.01,1245.36 L1337.70,1244.37 L1338.38,1243.39 L1339.07,1242.40 L1339.75,1241.41 L1340.44,1240.42 L1341.12,1239.43 L1341.81,1238.43 L1342.50,1237.44 L1343.18,1236.44 L1343.87,1235.44 L1344.55,1234.44 L1345.24,1233.44 L1345.92,1232.44 L1346.61,1231.44 L1347.29,1230.43 L1347.98,1229.43 L1348.66,1228.42 L1349.35,1227.41 L1350.03,1226.40 L1350.72,1225.39 L1351.40,1224.38 L1352.09,1223.36 L1352.77,1222.34 L1353.46,1221.33 L1354.15,1220.31 L1354.83,1219.29 L1355.52,1218.27 L1356.20,1217.24 L1356.89,1216.22 L1357.57,1215.19 L1358.26,1214.16 L1358.94,1213.13 L1359.63,1212.10 L1360.31,1211.07 L1361.00,1210.04 L1361.68,1209.00 L1362.37,1207.97 L1363.05,1206.93 L1363.74,1205.89 L1364.42,1204.85 L1365.11,1203.80 L1365.79,1202.76 L1366.48,1201.71 L1367.17,1200.67 L1367.85,1199.62 L1368.54,1198.57 L1369.22,1197.52 L1369.91,1196.46 L1370.59,1195.41 L1371.28,1194.35 L1371.96,1193.29 L1372.65,1192.23 L1373.33,1191.17 L1374.02,1190.11 L1374.70,1189.05 L1375.39,1187.98 L1376.07,1186.91 L1376.76,1185.85 L1377.44,1184.78 L1378.13,1183.70 L1378.82,1182.63 L1379.50,1181.56 L1380.19,1180.48 L1380.87,1179.40 L1381.56,1178.32 L1382.24,1177.24 L1382.93,1176.16 L1383.61,1175.07 L1384.30,1173.99 L1384.98,1172.90 L1385.67,1171.81 L1386.35,1170.72 L1387.04,1169.62 L1387.72,1168.53 L1388.41,1167.43 L1389.09,1166.34 L1389.78,1165.24 L1390.46,1164.14 L1391.15,1163.03 L1391.84,1161.93 L1392.52,1160.82 L1393.21,1159.72 L1393.89,1158.61 L1394.58,1157.50 L1395.26,1156.38 L1395.95,1155.27 L1396.63,1154.15 L1397.32,1153.04 L1398.00,1151.92 L1398.69,1150.80 L1399.37,1149.67 L1400.06,1148.55 L1400.74,1147.42 L1401.43,1146.29 L1402.11,1145.17 L1402.80,1144.03 L1403.49,1142.90 L1404.17,1141.77 L1404.86,1140.63 L1405.54,1139.49 L1406.23,1138.35 L1406.91,1137.21 L1407.60,1136.07 L1408.28,1134.92 L1408.97,1133.77 L1409.65,1132.63 L1410.34,1131.47 L1411.02,1130.32 L1411.71,1129.17 L1412.39,1128.01 L1413.08,1126.85 L1413.76,1125.69 L1414.45,1124.53 L1415.13,1123.37 L1415.82,1122.21 L1416.51,1121.04 L1417.19,1119.87 L1417.88,1118.70 L1418.56,1117.53 L1419.25,1116.35 L1419.93,1115.18 L1420.62,1114.00 L1421.30,1112.82 L1421.99,1111.64 L1422.67,1110.46 L1423.36,1109.27 L1424.04,1108.08 L1424.73,1106.89 L1425.41,1105.70 L1426.10,1104.51 L1426.78,1103.32 L1427.47,1102.12 L1428.16,1100.92 L1428.84,1099.72 L1429.53,1098.52 L1430.21,1097.31 L1430.90,1096.11 L1431.58,1094.90 L1432.27,1093.69 L1432.95,1092.48 L1433.64,1091.26 L1434.32,1090.05 L1435.01,1088.83 L1435.69,1087.61 L1436.38,1086.39 L1437.06,1085.16 L1437.75,1083.94 L1438.43,1082.71 L1439.12,1081.48 L1439.80,1080.25 L1440.49,1079.02 L1441.18,1077.78 L1441.86,1076.54 L1442.55,1075.30 L1443.23,1074.06 L1443.92,1072.82 L1444.60,1071.57 L1445.29,1070.32 L1445.97,1069.07 L1446.66,1067.82 L1447.34,1066.57 L1448.03,1065.31 L1448.71,1064.05 L1449.40,1062.79 L1450.08,1061.53 L1450.77,1060.27 L1451.45,1059.00 L1452.14,1057.73 L1452.83,1056.46 L1453.51,1055.19 L1454.20,1053.91 L1454.88,1052.64 L1455.57,1051.36 L1456.25,1050.07 L1456.94,1048.79 L1457.62,1047.51 L1458.31,1046.22 L1458.99,1044.93 L1459.68,1043.64 L1460.36,1042.34 L1461.05,1041.04 L1461.73,1039.75 L1462.42,1038.44 L1463.10,1037.14 L1463.79,1035.84 L1464.47,1034.53 L1465.16,1033.22 L1465.85,1031.91 L1466.53,1030.59 L1467.22,1029.28 L1467.90,1027.96 L1468.59,1026.64 L1469.27,1025.31 L1469.96,1023.99 L1470.64,1022.66 L1471.33,1021.33 L1472.01,1020.00 L1472.70,1018.66 L1473.38,1017.33 L1474.07,1015.99 L1474.75,1014.64 L1475.44,1013.30 L1476.12,1011.95 L1476.81,1010.61 L1477.50,1009.25 L1478.18,1007.90 L1478.87,1006.54 L1479.55,1005.19 L1480.24,1003.83 L1480.92,1002.46 L1481.61,1001.10 L1482.29,999.73 L1482.98,998.36 L1483.66,996.99 L1484.35,995.61 L1485.03,994.24 L1485.72,992.86 L1486.40,991.47 L1487.09,990.09 L1487.77,988.70 L1488.46,987.31 L1489.14,985.92 L1489.83,984.53 L1490.52,983.13 L1491.20,981.73 L1491.89,980.33 L1492.57,978.92 L1493.26,977.52 L1493.94,976.11 L1494.63,974.69 L1495.31,973.28 L1496.00,971.86 L1496.68,970.44 L1497.37,969.02 L1498.05,967.59 L1498.74,966.17 L1499.42,964.74 L1500.11,963.30 L1500.79,961.87 L1501.48,960.43 L1502.17,958.99 L1502.85,957.55 L1503.54,956.10 L1504.22,954.65 L1504.91,953.20 L1505.59,951.75 L1506.28,950.29 L1506.96,948.83 L1507.65,947.37 L1508.33,945.91 L1509.02,944.44 L1509.70,942.97 L1510.39,941.49 L1511.07,940.02 L1511.76,938.54 L1512.44,937.06 L1513.13,935.58 L1513.81,934.09 L1514.50,932.60 L1515.19,931.11 L1515.87,929.61 L1516.56,928.11 L1517.24,926.61 L1517.93,925.11 L1518.61,923.60 L1519.30,922.09 L1519.98,920.58 L1520.67,919.07 L1521.35,917.55 L1522.04,916.03 L1522.72,914.51 L1523.41,912.98 L1524.09,911.45 L1524.78,909.92 L1525.46,908.38 L1526.15,906.84 L1526.84,905.30 L1527.52,903.76 L1528.21,902.21 L1528.89,900.66 L1529.58,899.11 L1530.26,897.55 L1530.95,895.99 L1531.63,894.43 L1532.32,892.86 L1533.00,891.29 L1533.69,889.72 L1534.37,888.15 L1535.06,886.57 L1535.74,884.99 L1536.43,883.41 L1537.11,881.82 L1537.80,880.23 L1538.48,878.64 L1539.17,877.04 L1539.86,875.44 L1540.54,873.84 L1541.23,872.23 L1541.91,870.62 L1542.60,869.01 L1543.28,867.39 L1543.97,865.77 L1544.65,864.15 L1545.34,862.53 L1546.02,860.90 L1546.71,859.27 L1547.39,857.63 L1548.08,855.99 L1548.76,854.35 L1549.45,852.71 L1550.13,851.06 L1550.82,849.41 L1551.51,847.75 L1552.19,846.09 L1552.88,844.43 L1553.56,842.76 L1554.25,841.09 L1554.93,839.42 L1555.62,837.75 L1556.30,836.07 L1556.99,834.38 L1557.67,832.70 L1558.36,831.01 L1559.04,829.32 L1559.73,827.62 L1560.41,825.92 L1561.10,824.22 L1561.78,822.51 L1562.47,820.80 L1563.15,819.08 L1563.84,817.36 L1564.53,815.64 L1565.21,813.92 L1565.90,812.19 L1566.58,810.46 L1567.27,808.72 L1567.95,806.98 L1568.64,805.24 L1569.32,803.49 L1570.01,801.74 L1570.69,799.98 L1571.38,798.22 L1572.06,796.46 L1572.75,794.70 L1573.43,792.93 L1574.12,791.15 L1574.80,789.37 L1575.49,787.59 L1576.18,785.81 L1576.86,784.02 L1577.55,782.22 L1578.23,780.43 L1578.92,778.63 L1579.60,776.82 L1580.29,775.01 L1580.97,773.20 L1581.66,771.38 L1582.34,769.56 L1583.03,767.74 L1583.71,765.91 L1584.40,764.08 L1585.08,762.24 L1585.77,760.40 L1586.45,758.55 L1587.14,756.70 L1587.82,754.85 L1588.51,752.99 L1589.20,751.13 L1589.88,749.27 L1590.57,747.40 L1591.25,745.52 L1591.94,743.64 L1592.62,741.76 L1593.31,739.87 L1593.99,737.98 L1594.68,736.09 L1595.36,734.19 L1596.05,732.28 L1596.73,730.37 L1597.42,728.46 L1598.10,726.54 L1598.79,724.62 L1599.47,722.69 L1600.16,720.76 L1600.85,718.83 L1601.53,716.89 L1602.22,714.94 L1602.90,713.00 L1603.59,711.04 L1604.27,709.09 L1604.96,707.12 L1605.64,705.16 L1606.33,703.18 L1607.01,701.21 L1607.70,699.23 L1608.38,697.24 L1609.07,695.25 L1609.75,693.26 L1610.44,691.26 L1611.12,689.25 L1611.81,687.24 L1612.49,685.23 L1613.18,683.21 L1613.87,681.19 L1614.55,679.16 L1615.24,677.12 L1615.92,675.08 L1616.61,673.04 L1617.29,670.99 L1617.98,668.94 L1618.66,666.88 L1619.35,664.82 L1620.03,662.75 L1620.72,660.68 L1621.40,658.60 L1622.09,656.51 L1622.77,654.42 L1623.46,652.33 L1624.14,650.23 L1624.83,648.13 L1625.52,646.02 L1626.20,643.90 L1626.89,641.78 L1627.57,639.66 L1628.26,637.53 L1628.94,635.39 L1629.63,633.25 L1630.31,631.10 L1631.00,628.95 L1631.68,626.79 L1632.37,624.63 L1633.05,622.46 L1633.74,620.29 L1634.42,618.11 L1635.11,615.92 L1635.79,613.73 L1636.48,611.53 L1637.16,609.33 L1637.85,607.12 L1638.54,604.91 L1639.22,602.69 L1639.91,600.46 L1640.59,598.23 L1641.28,596.00 L1641.96,593.75 L1642.65,591.50 L1643.33,589.25 L1644.02,586.99 L1644.70,584.72 L1645.39,582.45 L1646.07,580.17 L1646.76,577.89 L1647.44,575.60 L1648.13,573.30 L1648.81,571.00 L1649.50,568.69 L1650.19,566.37 L1650.87,564.05 L1651.56,561.72 L1652.24,559.39 L1652.93,557.05 L1653.61,554.70 L1654.30,552.35 L1654.98,549.99 L1655.67,547.62 L1656.35,545.25 L1657.04,542.87 L1657.72,540.48 L1658.41,538.09 L1659.09,535.69 L1659.78,533.29 L1660.46,530.87 L1661.15,528.46 L1661.83,526.03 L1662.52,523.60 L1663.21,521.16 L1663.89,518.71 L1664.58,516.26 L1665.26,513.80 L1665.95,511.33 L1666.63,508.86 L1667.32,506.37 L1668.00,503.89 L1668.69,501.39 L1669.37,498.89 L1670.06,496.38 L1670.74,493.86 L1671.43,491.34 L1672.11,488.80 L1672.80,486.27 L1673.48,483.72 L1674.17,481.16 L1674.86,478.60 L1675.54,476.03 L1676.23,473.46 L1676.91,470.87 L1677.60,468.28 L1678.28,465.68 L1678.97,463.07 L1679.65,460.46 L1680.34,457.84 L1681.02,455.21 L1681.71,452.57 L1682.39,449.92 L1683.08,447.27 L1683.76,444.60 L1684.45,441.93 L1685.13,439.25 L1685.82,436.57 L1686.50,433.87 L1687.19,431.17 L1687.88,428.45 L1688.56,425.73 L1689.25,423.01 L1689.93,420.27 L1690.62,417.52 L1691.30,414.77 L1691.99,412.00 L1692.67,409.23 L1693.36,406.45 L1694.04,403.66 L1694.73,400.86 L1695.41,398.06 L1696.10,395.24 L1696.78,392.42 L1697.47,389.58 L1698.15,386.74 L1698.84,383.89 L1699.53,381.03 L1700.21,378.16 L1700.90,375.28 L1701.58,372.39 L1702.27,369.49 L1702.95,366.58 L1703.64,363.66 L1704.32,360.73 L1705.01,357.80 L1705.69,354.85 L1706.38,351.89 L1707.06,348.93 L1707.75,345.95 L1708.43,342.96 L1709.12,339.97 L1709.80,336.96 L1710.49,333.94 L1711.17,330.92 L1711.86,327.88 L1712.55,324.83 L1713.23,321.77 L1713.92,318.70 L1714.60,315.62 L1715.29,312.54 L1715.97,309.43 L1716.66,306.32 L1717.34,303.20 L1718.03,300.07 L1718.71,296.92 L1719.40,293.77 L1720.08,290.60 L1720.77,287.42 L1721.45,284.24 L1722.14,281.04 L1722.82,277.82 L1723.51,274.60 L1724.20,271.37 L1724.88,268.12 L1725.57,264.86 L1726.25,261.59 L1726.94,258.31 L1727.62,255.01 L1728.31,251.71 L1728.99,248.39 L1729.68,245.06 L1730.36,241.72 L1731.05,238.36 L1731.73,234.99 L1732.42,231.61 L1733.10,228.22 L1733.79,224.81 L1734.47,221.39 L1735.16,217.96 L1735.84,214.52 L1736.53,211.06 L1737.22,207.59 L1737.90,204.10 L1738.59,200.61 L1739.27,197.09 L1739.96,193.57 L1740.64,190.03 L1741.33,186.48 L1742.01,182.91 L1742.70,179.33 L1743.38,175.73 L1744.07,172.12 L1744.75,168.50 L1745.44,164.86 L1746.12,161.21 L1746.81,157.54 L1747.49,153.86 L1748.18,150.16 L1748.87,146.45 L1749.55,142.72 L1750.24,138.98 L1750.92,135.22 L1751.61,131.45 L1752.29,127.66 L1752.98,123.85 L1753.66,120.03 L1754.35,116.19 L1755.03,112.34 L1755.72,108.47 L1756.40,104.58 L1757.09,100.68 L1757.77,96.76 L1758.46,92.83 L1759.14,88.87 L1759.83,84.90 L1760.51,80.91 L1761.20,76.91 L1761.89,72.89 L1762.57,68.85 L1763.26,64.79 L1763.94,60.71 L1764.63,56.62 L1765.31,52.51 L1766.00,48.37 L1766.68,44.22 L1767.37,40.06 L1768.05,35.87 L1768.74,31.66 L1769.42,27.44 L1770.11,23.19 L1770.79,18.93 L1771.48,14.64 L1772.16,10.34 L1772.85,6.01 L1773.54,1.67 L1774.22,-2.70 L1774.91,-7.08" stroke-width="11" stroke-dasharray="27 25" stroke-linecap="round"/>
<path d="M281.00,1991.00 L281.70,1990.76 L282.41,1990.52 L283.11,1990.28 L283.81,1990.05 L284.52,1989.81 L285.22,1989.57 L285.92,1989.33 L286.63,1989.09 L287.33,1988.85 L288.03,1988.61 L288.74,1988.37 L289.44,1988.13 L290.14,1987.89 L290.84,1987.65 L291.55,1987.41 L292.25,1987.17 L292.95,1986.93 L293.66,1986.69 L294.36,1986.45 L295.06,1986.21 L295.77,1985.97 L296.47,1985.72 L297.17,1985.48 L297.88,1985.24 L298.58,1985.00 L299.28,1984.76 L299.99,1984.51 L300.69,1984.27 L301.39,1984.03 L302.10,1983.79 L302.80,1983.54 L303.50,1983.30 L304.21,1983.06 L304.91,1982.82 L305.61,1982.57 L306.32,1982.33 L307.02,1982.08 L307.72,1981.84 L308.43,1981.60 L309.13,1981.35 L309.83,1981.11 L310.53,1980.86 L311.24,1980.62 L311.94,1980.37 L312.64,1980.13 L313.35,1979.88 L314.05,1979.64 L314.75,1979.39 L315.46,1979.15 L316.16,1978.90 L316.86,1978.66 L317.57,1978.41 L318.27,1978.17 L318.97,1977.92 L319.68,1977.67 L320.38,1977.43 L321.08,1977.18 L321.79,1976.93 L322.49,1976.69 L323.19,1976.44 L323.90,1976.19 L324.60,1975.94 L325.30,1975.70 L326.01,1975.45 L326.71,1975.20 L327.41,1974.95 L328.12,1974.70 L328.82,1974.45 L329.52,1974.21 L330.22,1973.96 L330.93,1973.71 L331.63,1973.46 L332.33,1973.21 L333.04,1972.96 L333.74,1972.71 L334.44,1972.46 L335.15,1972.21 L335.85,1971.96 L336.55,1971.71 L337.26,1971.46 L337.96,1971.21 L338.66,1970.96 L339.37,1970.71 L340.07,1970.46 L340.77,1970.21 L341.48,1969.96 L342.18,1969.70 L342.88,1969.45 L343.59,1969.20 L344.29,1968.95 L344.99,1968.70 L345.70,1968.44 L346.40,1968.19 L347.10,1967.94 L347.80,1967.69 L348.51,1967.43 L349.21,1967.18 L349.91,1966.93 L350.62,1966.67 L351.32,1966.42 L352.02,1966.17 L352.73,1965.91 L353.43,1965.66 L354.13,1965.41 L354.84,1965.15 L355.54,1964.90 L356.24,1964.64 L356.95,1964.39 L357.65,1964.13 L358.35,1963.88 L359.06,1963.62 L359.76,1963.37 L360.46,1963.11 L361.17,1962.85 L361.87,1962.60 L362.57,1962.34 L363.28,1962.09 L363.98,1961.83 L364.68,1961.57 L365.39,1961.32 L366.09,1961.06 L366.79,1960.80 L367.49,1960.54 L368.20,1960.29 L368.90,1960.03 L369.60,1959.77 L370.31,1959.51 L371.01,1959.26 L371.71,1959.00 L372.42,1958.74 L373.12,1958.48 L373.82,1958.22 L374.53,1957.96 L375.23,1957.70 L375.93,1957.45 L376.64,1957.19 L377.34,1956.93 L378.04,1956.67 L378.75,1956.41 L379.45,1956.15 L380.15,1955.89 L380.86,1955.63 L381.56,1955.37 L382.26,1955.10 L382.97,1954.84 L383.67,1954.58 L384.37,1954.32 L385.08,1954.06 L385.78,1953.80 L386.48,1953.54 L387.18,1953.27 L387.89,1953.01 L388.59,1952.75 L389.29,1952.49 L390.00,1952.23 L390.70,1951.96 L391.40,1951.70 L392.11,1951.44 L392.81,1951.17 L393.51,1950.91 L394.22,1950.65 L394.92,1950.38 L395.62,1950.12 L396.33,1949.85 L397.03,1949.59 L397.73,1949.33 L398.44,1949.06 L399.14,1948.80 L399.84,1948.53 L400.55,1948.27 L401.25,1948.00 L401.95,1947.74 L402.66,1947.47 L403.36,1947.20 L404.06,1946.94 L404.76,1946.67 L405.47,1946.41 L406.17,1946.14 L406.87,1945.87 L407.58,1945.61 L408.28,1945.34 L408.98,1945.07 L409.69,1944.81 L410.39,1944.54 L411.09,1944.27 L411.80,1944.00 L412.50,1943.73 L413.20,1943.47 L413.91,1943.20 L414.61,1942.93 L415.31,1942.66 L416.02,1942.39 L416.72,1942.12 L417.42,1941.85 L418.13,1941.58 L418.83,1941.31 L419.53,1941.04 L420.24,1940.77 L420.94,1940.50 L421.64,1940.23 L422.35,1939.96 L423.05,1939.69 L423.75,1939.42 L424.45,1939.15 L425.16,1938.88 L425.86,1938.61 L426.56,1938.34 L427.27,1938.07 L427.97,1937.79 L428.67,1937.52 L429.38,1937.25 L430.08,1936.98 L430.78,1936.70 L431.49,1936.43 L432.19,1936.16 L432.89,1935.89 L433.60,1935.61 L434.30,1935.34 L435.00,1935.07 L435.71,1934.79 L436.41,1934.52 L437.11,1934.24 L437.82,1933.97 L438.52,1933.70 L439.22,1933.42 L439.93,1933.15 L440.63,1932.87 L441.33,1932.60 L442.04,1932.32 L442.74,1932.04 L443.44,1931.77 L444.14,1931.49 L444.85,1931.22 L445.55,1930.94 L446.25,1930.66 L446.96,1930.39 L447.66,1930.11 L448.36,1929.83 L449.07,1929.56 L449.77,1929.28 L450.47,1929.00 L451.18,1928.72 L451.88,1928.45 L452.58,1928.17 L453.29,1927.89 L453.99,1927.61 L454.69,1927.33 L455.40,1927.05 L456.10,1926.77 L456.80,1926.50 L457.51,1926.22 L458.21,1925.94 L458.91,1925.66 L459.62,1925.38 L460.32,1925.10 L461.02,1924.82 L461.72,1924.54 L462.43,1924.26 L463.13,1923.97 L463.83,1923.69 L464.54,1923.41 L465.24,1923.13 L465.94,1922.85 L466.65,1922.57 L467.35,1922.29 L468.05,1922.00 L468.76,1921.72 L469.46,1921.44 L470.16,1921.16 L470.87,1920.87 L471.57,1920.59 L472.27,1920.31 L472.98,1920.02 L473.68,1919.74 L474.38,1919.46 L475.09,1919.17 L475.79,1918.89 L476.49,1918.60 L477.20,1918.32 L477.90,1918.03 L478.60,1917.75 L479.31,1917.46 L480.01,1917.18 L480.71,1916.89 L481.41,1916.61 L482.12,1916.32 L482.82,1916.04 L483.52,1915.75 L484.23,1915.46 L484.93,1915.18 L485.63,1914.89 L486.34,1914.60 L487.04,1914.32 L487.74,1914.03 L488.45,1913.74 L489.15,1913.45 L489.85,1913.17 L490.56,1912.88 L491.26,1912.59 L491.96,1912.30 L492.67,1912.01 L493.37,1911.72 L494.07,1911.43 L494.78,1911.15 L495.48,1910.86 L496.18,1910.57 L496.89,1910.28 L497.59,1909.99 L498.29,1909.70 L498.99,1909.41 L499.70,1909.12 L500.40,1908.82 L501.10,1908.53 L501.81,1908.24 L502.51,1907.95 L503.21,1907.66 L503.92,1907.37 L504.62,1907.08 L505.32,1906.78 L506.03,1906.49 L506.73,1906.20 L507.43,1905.91 L508.14,1905.61 L508.84,1905.32 L509.54,1905.03 L510.25,1904.73 L510.95,1904.44 L511.65,1904.15 L512.36,1903.85 L513.06,1903.56 L513.76,1903.26 L514.47,1902.97 L515.17,1902.67 L515.87,1902.38 L516.58,1902.08 L517.28,1901.79 L517.98,1901.49 L518.68,1901.20 L519.39,1900.90 L520.09,1900.60 L520.79,1900.31 L521.50,1900.01 L522.20,1899.71 L522.90,1899.42 L523.61,1899.12 L524.31,1898.82 L525.01,1898.52 L525.72,1898.23 L526.42,1897.93 L527.12,1897.63 L527.83,1897.33 L528.53,1897.03 L529.23,1896.73 L529.94,1896.44 L530.64,1896.14 L531.34,1895.84 L532.05,1895.54 L532.75,1895.24 L533.45,1894.94 L534.16,1894.64 L534.86,1894.34 L535.56,1894.04 L536.27,1893.74 L536.97,1893.43 L537.67,1893.13 L538.37,1892.83 L539.08,1892.53 L539.78,1892.23 L540.48,1891.93 L541.19,1891.62 L541.89,1891.32 L542.59,1891.02 L543.30,1890.72 L544.00,1890.41 L544.70,1890.11 L545.41,1889.81 L546.11,1889.50 L546.81,1889.20 L547.52,1888.90 L548.22,1888.59 L548.92,1888.29 L549.63,1887.98 L550.33,1887.68 L551.03,1887.37 L551.74,1887.07 L552.44,1886.76 L553.14,1886.46 L553.85,1886.15 L554.55,1885.84 L555.25,1885.54 L555.95,1885.23 L556.66,1884.92 L557.36,1884.62 L558.06,1884.31 L558.77,1884.00 L559.47,1883.69 L560.17,1883.39 L560.88,1883.08 L561.58,1882.77 L562.28,1882.46 L562.99,1882.15 L563.69,1881.85 L564.39,1881.54 L565.10,1881.23 L565.80,1880.92 L566.50,1880.61 L567.21,1880.30 L567.91,1879.99 L568.61,1879.68 L569.32,1879.37 L570.02,1879.06 L570.72,1878.75 L571.43,1878.43 L572.13,1878.12 L572.83,1877.81 L573.54,1877.50 L574.24,1877.19 L574.94,1876.88 L575.64,1876.56 L576.35,1876.25 L577.05,1875.94 L577.75,1875.62 L578.46,1875.31 L579.16,1875.00 L579.86,1874.68 L580.57,1874.37 L581.27,1874.06 L581.97,1873.74 L582.68,1873.43 L583.38,1873.11 L584.08,1872.80 L584.79,1872.48 L585.49,1872.17 L586.19,1871.85 L586.90,1871.54 L587.60,1871.22 L588.30,1870.90 L589.01,1870.59 L589.71,1870.27 L590.41,1869.95 L591.12,1869.64 L591.82,1869.32 L592.52,1869.00 L593.23,1868.68 L593.93,1868.37 L594.63,1868.05 L595.33,1867.73 L596.04,1867.41 L596.74,1867.09 L597.44,1866.77 L598.15,1866.45 L598.85,1866.13 L599.55,1865.81 L600.26,1865.49 L600.96,1865.17 L601.66,1864.85 L602.37,1864.53 L603.07,1864.21 L603.77,1863.89 L604.48,1863.57 L605.18,1863.25 L605.88,1862.93 L606.59,1862.61 L607.29,1862.28 L607.99,1861.96 L608.70,1861.64 L609.40,1861.32 L610.10,1860.99 L610.81,1860.67 L611.51,1860.35 L612.21,1860.02 L612.91,1859.70 L613.62,1859.37 L614.32,1859.05 L615.02,1858.73 L615.73,1858.40 L616.43,1858.08 L617.13,1857.75 L617.84,1857.42 L618.54,1857.10 L619.24,1856.77 L619.95,1856.45 L620.65,1856.12 L621.35,1855.79 L622.06,1855.47 L622.76,1855.14 L623.46,1854.81 L624.17,1854.49 L624.87,1854.16 L625.57,1853.83 L626.28,1853.50 L626.98,1853.17 L627.68,1852.84 L628.39,1852.52 L629.09,1852.19 L629.79,1851.86 L630.50,1851.53 L631.20,1851.20 L631.90,1850.87 L632.60,1850.54 L633.31,1850.21 L634.01,1849.88 L634.71,1849.55 L635.42,1849.21 L636.12,1848.88 L636.82,1848.55 L637.53,1848.22 L638.23,1847.89 L638.93,1847.55 L639.64,1847.22 L640.34,1846.89 L641.04,1846.56 L641.75,1846.22 L642.45,1845.89 L643.15,1845.56 L643.86,1845.22 L644.56,1844.89 L645.26,1844.55 L645.97,1844.22 L646.67,1843.88 L647.37,1843.55 L648.08,1843.21 L648.78,1842.88 L649.48,1842.54 L650.19,1842.21 L650.89,1841.87 L651.59,1841.53 L652.29,1841.20 L653.00,1840.86 L653.70,1840.52 L654.40,1840.19 L655.11,1839.85 L655.81,1839.51 L656.51,1839.17 L657.22,1838.83 L657.92,1838.49 L658.62,1838.16 L659.33,1837.82 L660.03,1837.48 L660.73,1837.14 L661.44,1836.80 L662.14,1836.46 L662.84,1836.12 L663.55,1835.78 L664.25,1835.44 L664.95,1835.10 L665.66,1834.75 L666.36,1834.41 L667.06,1834.07 L667.77,1833.73 L668.47,1833.39 L669.17,1833.04 L669.87,1832.70 L670.58,1832.36 L671.28,1832.02 L671.98,1831.67 L672.69,1831.33 L673.39,1830.98 L674.09,1830.64 L674.80,1830.30 L675.50,1829.95 L676.20,1829.61 L676.91,1829.26 L677.61,1828.92 L678.31,1828.57 L679.02,1828.22 L679.72,1827.88 L680.42,1827.53 L681.13,1827.18 L681.83,1826.84 L682.53,1826.49 L683.24,1826.14 L683.94,1825.80 L684.64,1825.45 L685.35,1825.10 L686.05,1824.75 L686.75,1824.40 L687.46,1824.05 L688.16,1823.71 L688.86,1823.36 L689.56,1823.01 L690.27,1822.66 L690.97,1822.31 L691.67,1821.96 L692.38,1821.61 L693.08,1821.26 L693.78,1820.90 L694.49,1820.55 L695.19,1820.20 L695.89,1819.85 L696.60,1819.50 L697.30,1819.15 L698.00,1818.79 L698.71,1818.44 L699.41,1818.09 L700.11,1817.73 L700.82,1817.38 L701.52,1817.03 L702.22,1816.67 L702.93,1816.32 L703.63,1815.96 L704.33,1815.61 L705.04,1815.25 L705.74,1814.90 L706.44,1814.54 L707.15,1814.19 L707.85,1813.83 L708.55,1813.47 L709.25,1813.12 L709.96,1812.76 L710.66,1812.40 L711.36,1812.05 L712.07,1811.69 L712.77,1811.33 L713.47,1810.97 L714.18,1810.61 L714.88,1810.26 L715.58,1809.90 L716.29,1809.54 L716.99,1809.18 L717.69,1808.82 L718.40,1808.46 L719.10,1808.10 L719.80,1807.74 L720.51,1807.38 L721.21,1807.02 L721.91,1806.65 L722.62,1806.29 L723.32,1805.93 L724.02,1805.57 L724.73,1805.21 L725.43,1804.84 L726.13,1804.48 L726.83,1804.12 L727.54,1803.76 L728.24,1803.39 L728.94,1803.03 L729.65,1802.66 L730.35,1802.30 L731.05,1801.93 L731.76,1801.57 L732.46,1801.20 L733.16,1800.84 L733.87,1800.47 L734.57,1800.11 L735.27,1799.74 L735.98,1799.37 L736.68,1799.01 L737.38,1798.64 L738.09,1798.27 L738.79,1797.91 L739.49,1797.54 L740.20,1797.17 L740.90,1796.80 L741.60,1796.43 L742.31,1796.06 L743.01,1795.69 L743.71,1795.33 L744.42,1794.96 L745.12,1794.59 L745.82,1794.22 L746.52,1793.84 L747.23,1793.47 L747.93,1793.10 L748.63,1792.73 L749.34,1792.36 L750.04,1791.99 L750.74,1791.62 L751.45,1791.24 L752.15,1790.87 L752.85,1790.50 L753.56,1790.12 L754.26,1789.75 L754.96,1789.38 L755.67,1789.00 L756.37,1788.63 L757.07,1788.25 L757.78,1787.88 L758.48,1787.50 L759.18,1787.13 L759.89,1786.75 L760.59,1786.38 L761.29,1786.00 L762.00,1785.62 L762.70,1785.25 L763.40,1784.87 L764.11,1784.49 L764.81,1784.12 L765.51,1783.74 L766.21,1783.36 L766.92,1782.98 L767.62,1782.60 L768.32,1782.22 L769.03,1781.84 L769.73,1781.46 L770.43,1781.08 L771.14,1780.70 L771.84,1780.32 L772.54,1779.94 L773.25,1779.56 L773.95,1779.18 L774.65,1778.80 L775.36,1778.42 L776.06,1778.04 L776.76,1777.65 L777.47,1777.27 L778.17,1776.89 L778.87,1776.50 L779.58,1776.12 L780.28,1775.74 L780.98,1775.35 L781.69,1774.97 L782.39,1774.58 L783.09,1774.20 L783.79,1773.81 L784.50,1773.43 L785.20,1773.04 L785.90,1772.66 L786.61,1772.27 L787.31,1771.88 L788.01,1771.50 L788.72,1771.11 L789.42,1770.72 L790.12,1770.33 L790.83,1769.94 L791.53,1769.56 L792.23,1769.17 L792.94,1768.78 L793.64,1768.39 L794.34,1768.00 L795.05,1767.61 L795.75,1767.22 L796.45,1766.83 L797.16,1766.44 L797.86,1766.05 L798.56,1765.66 L799.27,1765.26 L799.97,1764.87 L800.67,1764.48 L801.38,1764.09 L802.08,1763.70 L802.78,1763.30 L803.48,1762.91 L804.19,1762.52 L804.89,1762.12 L805.59,1761.73 L806.30,1761.33 L807.00,1760.94 L807.70,1760.54 L808.41,1760.15 L809.11,1759.75 L809.81,1759.36 L810.52,1758.96 L811.22,1758.56 L811.92,1758.17 L812.63,1757.77 L813.33,1757.37 L814.03,1756.97 L814.74,1756.57 L815.44,1756.18 L816.14,1755.78 L816.85,1755.38 L817.55,1754.98 L818.25,1754.58 L818.96,1754.18 L819.66,1753.78 L820.36,1753.38 L821.07,1752.98 L821.77,1752.58 L822.47,1752.18 L823.17,1751.77 L823.88,1751.37 L824.58,1750.97 L825.28,1750.57 L825.99,1750.16 L826.69,1749.76 L827.39,1749.36 L828.10,1748.95 L828.80,1748.55 L829.50,1748.14 L830.21,1747.74 L830.91,1747.33 L831.61,1746.93 L832.32,1746.52 L833.02,1746.12 L833.72,1745.71 L834.43,1745.30 L835.13,1744.90 L835.83,1744.49 L836.54,1744.08 L837.24,1743.67 L837.94,1743.27 L838.65,1742.86 L839.35,1742.45 L840.05,1742.04 L840.75,1741.63 L841.46,1741.22 L842.16,1740.81 L842.86,1740.40 L843.57,1739.99 L844.27,1739.58 L844.97,1739.17 L845.68,1738.76 L846.38,1738.34 L847.08,1737.93 L847.79,1737.52 L848.49,1737.11 L849.19,1736.69 L849.90,1736.28 L850.60,1735.86 L851.30,1735.45 L852.01,1735.04 L852.71,1734.62 L853.41,1734.21 L854.12,1733.79 L854.82,1733.37 L855.52,1732.96 L856.23,1732.54 L856.93,1732.13 L857.63,1731.71 L858.34,1731.29 L859.04,1730.87 L859.74,1730.46 L860.44,1730.04 L861.15,1729.62 L861.85,1729.20 L862.55,1728.78 L863.26,1728.36 L863.96,1727.94 L864.66,1727.52 L865.37,1727.10 L866.07,1726.68 L866.77,1726.26 L867.48,1725.84 L868.18,1725.41 L868.88,1724.99 L869.59,1724.57 L870.29,1724.15 L870.99,1723.72 L871.70,1723.30 L872.40,1722.88 L873.10,1722.45 L873.81,1722.03 L874.51,1721.60 L875.21,1721.18 L875.92,1720.75 L876.62,1720.32 L877.32,1719.90 L878.03,1719.47 L878.73,1719.05 L879.43,1718.62 L880.13,1718.19 L880.84,1717.76 L881.54,1717.33 L882.24,1716.91 L882.95,1716.48 L883.65,1716.05 L884.35,1715.62 L885.06,1715.19 L885.76,1714.76 L886.46,1714.33 L887.17,1713.90 L887.87,1713.47 L888.57,1713.03 L889.28,1712.60 L889.98,1712.17 L890.68,1711.74 L891.39,1711.30 L892.09,1710.87 L892.79,1710.44 L893.50,1710.00 L894.20,1709.57 L894.90,1709.13 L895.61,1708.70 L896.31,1708.26 L897.01,1707.83 L897.71,1707.39 L898.42,1706.96 L899.12,1706.52 L899.82,1706.08 L900.53,1705.64 L901.23,1705.21 L901.93,1704.77 L902.64,1704.33 L903.34,1703.89 L904.04,1703.45 L904.75,1703.01 L905.45,1702.57 L906.15,1702.13 L906.86,1701.69 L907.56,1701.25 L908.26,1700.81 L908.97,1700.37 L909.67,1699.93 L910.37,1699.49 L911.08,1699.04 L911.78,1698.60 L912.48,1698.16 L913.19,1697.71 L913.89,1697.27 L914.59,1696.82 L915.30,1696.38 L916.00,1695.93 L916.70,1695.49 L917.40,1695.04 L918.11,1694.60 L918.81,1694.15 L919.51,1693.70 L920.22,1693.26 L920.92,1692.81 L921.62,1692.36 L922.33,1691.91 L923.03,1691.46 L923.73,1691.01 L924.44,1690.57 L925.14,1690.12 L925.84,1689.67 L926.55,1689.22 L927.25,1688.76 L927.95,1688.31 L928.66,1687.86 L929.36,1687.41 L930.06,1686.96 L930.77,1686.50 L931.47,1686.05 L932.17,1685.60 L932.88,1685.14 L933.58,1684.69 L934.28,1684.24 L934.98,1683.78 L935.69,1683.33 L936.39,1682.87 L937.09,1682.41 L937.80,1681.96 L938.50,1681.50 L939.20,1681.05 L939.91,1680.59 L940.61,1680.13 L941.31,1679.67 L942.02,1679.21 L942.72,1678.75 L943.42,1678.30 L944.13,1677.84 L944.83,1677.38 L945.53,1676.92 L946.24,1676.45 L946.94,1675.99 L947.64,1675.53 L948.35,1675.07 L949.05,1674.61 L949.75,1674.15 L950.46,1673.68 L951.16,1673.22 L951.86,1672.76 L952.57,1672.29 L953.27,1671.83 L953.97,1671.36 L954.67,1670.90 L955.38,1670.43 L956.08,1669.96 L956.78,1669.50 L957.49,1669.03 L958.19,1668.56 L958.89,1668.10 L959.60,1667.63 L960.30,1667.16 L961.00,1666.69 L961.71,1666.22 L962.41,1665.75 L963.11,1665.28 L963.82,1664.81 L964.52,1664.34 L965.22,1663.87 L965.93,1663.40 L966.63,1662.93 L967.33,1662.46 L968.04,1661.98 L968.74,1661.51 L969.44,1661.04 L970.15,1660.56 L970.85,1660.09 L971.55,1659.62 L972.26,1659.14 L972.96,1658.67 L973.66,1658.19 L974.36,1657.71 L975.07,1657.24 L975.77,1656.76 L976.47,1656.28 L977.18,1655.81 L977.88,1655.33 L978.58,1654.85 L979.29,1654.37 L979.99,1653.89 L980.69,1653.41 L981.40,1652.93 L982.10,1652.45 L982.80,1651.97 L983.51,1651.49 L984.21,1651.01 L984.91,1650.53 L985.62,1650.04 L986.32,1649.56 L987.02,1649.08 L987.73,1648.59 L988.43,1648.11 L989.13,1647.62 L989.84,1647.14 L990.54,1646.65 L991.24,1646.17 L991.94,1645.68 L992.65,1645.20 L993.35,1644.71 L994.05,1644.22 L994.76,1643.73 L995.46,1643.25 L996.16,1642.76 L996.87,1642.27 L997.57,1641.78 L998.27,1641.29 L998.98,1640.80 L999.68,1640.31 L1000.38,1639.82 L1001.09,1639.33 L1001.79,1638.84 L1002.49,1638.34 L1003.20,1637.85 L1003.90,1637.36 L1004.60,1636.86 L1005.31,1636.37 L1006.01,1635.88 L1006.71,1635.38 L1007.42,1634.89 L1008.12,1634.39 L1008.82,1633.89 L1009.53,1633.40 L1010.23,1632.90 L1010.93,1632.40 L1011.63,1631.91 L1012.34,1631.41 L1013.04,1630.91 L1013.74,1630.41 L1014.45,1629.91 L1015.15,1629.41 L1015.85,1628.91 L1016.56,1628.41 L1017.26,1627.91 L1017.96,1627.41 L1018.67,1626.91 L1019.37,1626.41 L1020.07,1625.90 L1020.78,1625.40 L1021.48,1624.90 L1022.18,1624.39 L1022.89,1623.89 L1023.59,1623.38 L1024.29,1622.88 L1025.00,1622.37 L1025.70,1621.87 L1026.40,1621.36 L1027.11,1620.85 L1027.81,1620.34 L1028.51,1619.84 L1029.22,1619.33 L1029.92,1618.82 L1030.62,1618.31 L1031.32,1617.80 L1032.03,1617.29 L1032.73,1616.78 L1033.43,1616.27 L1034.14,1615.76 L1034.84,1615.25 L1035.54,1614.73 L1036.25,1614.22 L1036.95,1613.71 L1037.65,1613.19 L1038.36,1612.68 L1039.06,1612.17 L1039.76,1611.65 L1040.47,1611.14 L1041.17,1610.62 L1041.87,1610.10 L1042.58,1609.59 L1043.28,1609.07 L1043.98,1608.55 L1044.69,1608.03 L1045.39,1607.52 L1046.09,1607.00 L1046.80,1606.48 L1047.50,1605.96 L1048.20,1605.44 L1048.90,1604.92 L1049.61,1604.40 L1050.31,1603.87 L1051.01,1603.35 L1051.72,1602.83 L1052.42,1602.31 L1053.12,1601.78 L1053.83,1601.26 L1054.53,1600.73 L1055.23,1600.21 L1055.94,1599.68 L1056.64,1599.16 L1057.34,1598.63 L1058.05,1598.11 L1058.75,1597.58 L1059.45,1597.05 L1060.16,1596.52 L1060.86,1595.99 L1061.56,1595.47 L1062.27,1594.94 L1062.97,1594.41 L1063.67,1593.88 L1064.38,1593.34 L1065.08,1592.81 L1065.78,1592.28 L1066.49,1591.75 L1067.19,1591.22 L1067.89,1590.68 L1068.59,1590.15 L1069.30,1589.62 L1070.00,1589.08 L1070.70,1588.55 L1071.41,1588.01 L1072.11,1587.47 L1072.81,1586.94 L1073.52,1586.40 L1074.22,1585.86 L1074.92,1585.33 L1075.63,1584.79 L1076.33,1584.25 L1077.03,1583.71 L1077.74,1583.17 L1078.44,1582.63 L1079.14,1582.09 L1079.85,1581.55 L1080.55,1581.01 L1081.25,1580.46 L1081.96,1579.92 L1082.66,1579.38 L1083.36,1578.83 L1084.07,1578.29 L1084.77,1577.75 L1085.47,1577.20 L1086.18,1576.65 L1086.88,1576.11 L1087.58,1575.56 L1088.28,1575.01 L1088.99,1574.47 L1089.69,1573.92 L1090.39,1573.37 L1091.10,1572.82 L1091.80,1572.27 L1092.50,1571.72 L1093.21,1571.17 L1093.91,1570.62 L1094.61,1570.07 L1095.32,1569.52 L1096.02,1568.96 L1096.72,1568.41 L1097.43,1567.86 L1098.13,1567.30 L1098.83,1566.75 L1099.54,1566.20 L1100.24,1565.64 L1100.94,1565.08 L1101.65,1564.53 L1102.35,1563.97 L1103.05,1563.41 L1103.76,1562.85 L1104.46,1562.30 L1105.16,1561.74 L1105.86,1561.18 L1106.57,1560.62 L1107.27,1560.06 L1107.97,1559.50 L1108.68,1558.93 L1109.38,1558.37 L1110.08,1557.81 L1110.79,1557.25 L1111.49,1556.68 L1112.19,1556.12 L1112.90,1555.56 L1113.60,1554.99 L1114.30,1554.42 L1115.01,1553.86 L1115.71,1553.29 L1116.41,1552.72 L1117.12,1552.16 L1117.82,1551.59 L1118.52,1551.02 L1119.23,1550.45 L1119.93,1549.88 L1120.63,1549.31 L1121.34,1548.74 L1122.04,1548.17 L1122.74,1547.60 L1123.45,1547.02 L1124.15,1546.45 L1124.85,1545.88 L1125.55,1545.30 L1126.26,1544.73 L1126.96,1544.15 L1127.66,1543.58 L1128.37,1543.00 L1129.07,1542.43 L1129.77,1541.85 L1130.48,1541.27 L1131.18,1540.69 L1131.88,1540.11 L1132.59,1539.53 L1133.29,1538.96 L1133.99,1538.37 L1134.70,1537.79 L1135.40,1537.21 L1136.10,1536.63 L1136.81,1536.05 L1137.51,1535.46 L1138.21,1534.88 L1138.92,1534.30 L1139.62,1533.71 L1140.32,1533.13 L1141.03,1532.54 L1141.73,1531.96 L1142.43,1531.37 L1143.14,1530.78 L1143.84,1530.19 L1144.54,1529.60 L1145.24,1529.02 L1145.95,1528.43 L1146.65,1527.84 L1147.35,1527.24 L1148.06,1526.65 L1148.76,1526.06 L1149.46,1525.47 L1150.17,1524.88 L1150.87,1524.28 L1151.57,1523.69 L1152.28,1523.09 L1152.98,1522.50 L1153.68,1521.90 L1154.39,1521.31 L1155.09,1520.71 L1155.79,1520.11 L1156.50,1519.52 L1157.20,1518.92 L1157.90,1518.32 L1158.61,1517.72 L1159.31,1517.12 L1160.01,1516.52 L1160.72,1515.92 L1161.42,1515.31 L1162.12,1514.71 L1162.82,1514.11 L1163.53,1513.50 L1164.23,1512.90 L1164.93,1512.30 L1165.64,1511.69 L1166.34,1511.08 L1167.04,1510.48 L1167.75,1509.87 L1168.45,1509.26 L1169.15,1508.65 L1169.86,1508.05 L1170.56,1507.44 L1171.26,1506.83 L1171.97,1506.22 L1172.67,1505.60 L1173.37,1504.99 L1174.08,1504.38 L1174.78,1503.77 L1175.48,1503.15 L1176.19,1502.54 L1176.89,1501.93 L1177.59,1501.31 L1178.30,1500.69 L1179.00,1500.08 L1179.70,1499.46 L1180.41,1498.84 L1181.11,1498.22 L1181.81,1497.61 L1182.51,1496.99 L1183.22,1496.37 L1183.92,1495.75 L1184.62,1495.12 L1185.33,1494.50 L1186.03,1493.88 L1186.73,1493.26 L1187.44,1492.63 L1188.14,1492.01 L1188.84,1491.38 L1189.55,1490.76 L1190.25,1490.13 L1190.95,1489.51 L1191.66,1488.88 L1192.36,1488.25 L1193.06,1487.62 L1193.77,1486.99 L1194.47,1486.36 L1195.17,1485.73 L1195.88,1485.10 L1196.58,1484.47 L1197.28,1483.84 L1197.99,1483.21 L1198.69,1482.57 L1199.39,1481.94 L1200.10,1481.30 L1200.80,1480.67 L1201.50,1480.03 L1202.20,1479.40 L1202.91,1478.76 L1203.61,1478.12 L1204.31,1477.48 L1205.02,1476.84 L1205.72,1476.20 L1206.42,1475.56 L1207.13,1474.92 L1207.83,1474.28 L1208.53,1473.64 L1209.24,1473.00 L1209.94,1472.35 L1210.64,1471.71 L1211.35,1471.06 L1212.05,1470.42 L1212.75,1469.77 L1213.46,1469.13 L1214.16,1468.48 L1214.86,1467.83 L1215.57,1467.18 L1216.27,1466.53 L1216.97,1465.88 L1217.68,1465.23 L1218.38,1464.58 L1219.08,1463.93 L1219.78,1463.28 L1220.49,1462.63 L1221.19,1461.97 L1221.89,1461.32 L1222.60,1460.66 L1223.30,1460.01 L1224.00,1459.35 L1224.71,1458.69 L1225.41,1458.04 L1226.11,1457.38 L1226.82,1456.72 L1227.52,1456.06 L1228.22,1455.40 L1228.93,1454.74 L1229.63,1454.08 L1230.33,1453.41 L1231.04,1452.75 L1231.74,1452.09 L1232.44,1451.42 L1233.15,1450.76 L1233.85,1450.09 L1234.55,1449.43 L1235.26,1448.76 L1235.96,1448.09 L1236.66,1447.42 L1237.37,1446.75 L1238.07,1446.08 L1238.77,1445.41 L1239.47,1444.74 L1240.18,1444.07 L1240.88,1443.40 L1241.58,1442.72 L1242.29,1442.05 L1242.99,1441.38 L1243.69,1440.70 L1244.40,1440.03 L1245.10,1439.35 L1245.80,1438.67 L1246.51,1437.99 L1247.21,1437.32 L1247.91,1436.64 L1248.62,1435.96 L1249.32,1435.28 L1250.02,1434.59 L1250.73,1433.91 L1251.43,1433.23 L1252.13,1432.55 L1252.84,1431.86 L1253.54,1431.18 L1254.24,1430.49 L1254.95,1429.80 L1255.65,1429.12 L1256.35,1428.43 L1257.06,1427.74 L1257.76,1427.05 L1258.46,1426.36 L1259.16,1425.67 L1259.87,1424.98 L1260.57,1424.29 L1261.27,1423.60 L1261.98,1422.90 L1262.68,1422.21 L1263.38,1421.51 L1264.09,1420.82 L1264.79,1420.12 L1265.49,1419.42 L1266.20,1418.73 L1266.90,1418.03 L1267.60,1417.33 L1268.31,1416.63 L1269.01,1415.93 L1269.71,1415.23 L1270.42,1414.52 L1271.12,1413.82 L1271.82,1413.12 L1272.53,1412.41 L1273.23,1411.71 L1273.93,1411.00 L1274.64,1410.30 L1275.34,1409.59 L1276.04,1408.88 L1276.74,1408.17 L1277.45,1407.46 L1278.15,1406.75 L1278.85,1406.04 L1279.56,1405.33 L1280.26,1404.62 L1280.96,1403.90 L1281.67,1403.19 L1282.37,1402.47 L1283.07,1401.76 L1283.78,1401.04 L1284.48,1400.32 L1285.18,1399.61 L1285.89,1398.89 L1286.59,1398.17 L1287.29,1397.45 L1288.00,1396.73 L1288.70,1396.01 L1289.40,1395.28 L1290.11,1394.56 L1290.81,1393.84 L1291.51,1393.11 L1292.22,1392.39 L1292.92,1391.66 L1293.62,1390.93 L1294.33,1390.20 L1295.03,1389.48 L1295.73,1388.75 L1296.43,1388.02 L1297.14,1387.29 L1297.84,1386.55 L1298.54,1385.82 L1299.25,1385.09 L1299.95,1384.35 L1300.65,1383.62 L1301.36,1382.88 L1302.06,1382.15 L1302.76,1381.41 L1303.47,1380.67 L1304.17,1379.93 L1304.87,1379.19 L1305.58,1378.45 L1306.28,1377.71 L1306.98,1376.97 L1307.69,1376.23 L1308.39,1375.48 L1309.09,1374.74 L1309.80,1373.99 L1310.50,1373.25 L1311.20,1372.50 L1311.91,1371.75 L1312.61,1371.00 L1313.31,1370.25 L1314.02,1369.50 L1314.72,1368.75 L1315.42,1368.00 L1316.12,1367.25 L1316.83,1366.49 L1317.53,1365.74 L1318.23,1364.98 L1318.94,1364.23 L1319.64,1363.47 L1320.34,1362.71 L1321.05,1361.95 L1321.75,1361.19 L1322.45,1360.43 L1323.16,1359.67 L1323.86,1358.91 L1324.56,1358.15 L1325.27,1357.39 L1325.97,1356.62 L1326.67,1355.86 L1327.38,1355.09 L1328.08,1354.32 L1328.78,1353.55 L1329.49,1352.79 L1330.19,1352.02 L1330.89,1351.25 L1331.60,1350.47 L1332.30,1349.70 L1333.00,1348.93 L1333.70,1348.16 L1334.41,1347.38 L1335.11,1346.61 L1335.81,1345.83 L1336.52,1345.05 L1337.22,1344.27 L1337.92,1343.49 L1338.63,1342.71 L1339.33,1341.93 L1340.03,1341.15 L1340.74,1340.37 L1341.44,1339.59 L1342.14,1338.80 L1342.85,1338.02 L1343.55,1337.23 L1344.25,1336.44 L1344.96,1335.66 L1345.66,1334.87 L1346.36,1334.08 L1347.07,1333.29 L1347.77,1332.49 L1348.47,1331.70 L1349.18,1330.91 L1349.88,1330.12 L1350.58,1329.32 L1351.29,1328.52 L1351.99,1327.73 L1352.69,1326.93 L1353.39,1326.13 L1354.10,1325.33 L1354.80,1324.53 L1355.50,1323.73 L1356.21,1322.93 L1356.91,1322.12 L1357.61,1321.32 L1358.32,1320.51 L1359.02,1319.71 L1359.72,1318.90 L1360.43,1318.09 L1361.13,1317.28 L1361.83,1316.47 L1362.54,1315.66 L1363.24,1314.85 L1363.94,1314.04 L1364.65,1313.23 L1365.35,1312.41 L1366.05,1311.60 L1366.76,1310.78 L1367.46,1309.96 L1368.16,1309.14 L1368.87,1308.33 L1369.57,1307.51 L1370.27,1306.68 L1370.97,1305.86 L1371.68,1305.04 L1372.38,1304.22 L1373.08,1303.39 L1373.79,1302.56 L1374.49,1301.74 L1375.19,1300.91 L1375.90,1300.08 L1376.60,1299.25 L1377.30,1298.42 L1378.01,1297.59 L1378.71,1296.76 L1379.41,1295.92 L1380.12,1295.09 L1380.82,1294.25 L1381.52,1293.42 L1382.23,1292.58 L1382.93,1291.74 L1383.63,1290.90 L1384.34,1290.06 L1385.04,1289.22 L1385.74,1288.37 L1386.45,1287.53 L1387.15,1286.69 L1387.85,1285.84 L1388.56,1284.99 L1389.26,1284.15 L1389.96,1283.30 L1390.66,1282.45 L1391.37,1281.60 L1392.07,1280.75 L1392.77,1279.89 L1393.48,1279.04 L1394.18,1278.18 L1394.88,1277.33 L1395.59,1276.47 L1396.29,1275.61 L1396.99,1274.76 L1397.70,1273.90 L1398.40,1273.03 L1399.10,1272.17 L1399.81,1271.31 L1400.51,1270.45 L1401.21,1269.58 L1401.92,1268.71 L1402.62,1267.85 L1403.32,1266.98 L1404.03,1266.11 L1404.73,1265.24 L1405.43,1264.37 L1406.14,1263.50 L1406.84,1262.62 L1407.54,1261.75 L1408.25,1260.87 L1408.95,1260.00 L1409.65,1259.12 L1410.35,1258.24 L1411.06,1257.36 L1411.76,1256.48 L1412.46,1255.60 L1413.17,1254.71 L1413.87,1253.83 L1414.57,1252.94 L1415.28,1252.06 L1415.98,1251.17 L1416.68,1250.28 L1417.39,1249.39 L1418.09,1248.50 L1418.79,1247.61 L1419.50,1246.71 L1420.20,1245.82 L1420.90,1244.93 L1421.61,1244.03 L1422.31,1243.13 L1423.01,1242.23 L1423.72,1241.33 L1424.42,1240.43 L1425.12,1239.53 L1425.83,1238.63 L1426.53,1237.72 L1427.23,1236.82 L1427.93,1235.91 L1428.64,1235.00 L1429.34,1234.10 L1430.04,1233.19 L1430.75,1232.27 L1431.45,1231.36 L1432.15,1230.45 L1432.86,1229.53 L1433.56,1228.62 L1434.26,1227.70 L1434.97,1226.78 L1435.67,1225.87 L1436.37,1224.95 L1437.08,1224.02 L1437.78,1223.10 L1438.48,1222.18 L1439.19,1221.25 L1439.89,1220.33 L1440.59,1219.40 L1441.30,1218.47 L1442.00,1217.54 L1442.70,1216.61 L1443.41,1215.68 L1444.11,1214.75 L1444.81,1213.81 L1445.52,1212.88 L1446.22,1211.94 L1446.92,1211.00 L1447.62,1210.06 L1448.33,1209.12 L1449.03,1208.18 L1449.73,1207.24 L1450.44,1206.29 L1451.14,1205.35 L1451.84,1204.40 L1452.55,1203.45 L1453.25,1202.51 L1453.95,1201.56 L1454.66,1200.60 L1455.36,1199.65 L1456.06,1198.70 L1456.77,1197.74 L1457.47,1196.79 L1458.17,1195.83 L1458.88,1194.87 L1459.58,1193.91 L1460.28,1192.95 L1460.99,1191.99 L1461.69,1191.02 L1462.39,1190.06 L1463.10,1189.09 L1463.80,1188.12 L1464.50,1187.15 L1465.21,1186.18 L1465.91,1185.21 L1466.61,1184.24 L1467.31,1183.27 L1468.02,1182.29 L1468.72,1181.31 L1469.42,1180.34 L1470.13,1179.36 L1470.83,1178.38 L1471.53,1177.40 L1472.24,1176.41 L1472.94,1175.43 L1473.64,1174.44 L1474.35,1173.46 L1475.05,1172.47 L1475.75,1171.48 L1476.46,1170.49 L1477.16,1169.49 L1477.86,1168.50 L1478.57,1167.51 L1479.27,1166.51 L1479.97,1165.51 L1480.68,1164.51 L1481.38,1163.51 L1482.08,1162.51 L1482.79,1161.51 L1483.49,1160.50 L1484.19,1159.50 L1484.89,1158.49 L1485.60,1157.48 L1486.30,1156.47 L1487.00,1155.46 L1487.71,1154.45 L1488.41,1153.44 L1489.11,1152.42 L1489.82,1151.40 L1490.52,1150.39 L1491.22,1149.37 L1491.93,1148.35 L1492.63,1147.32 L1493.33,1146.30 L1494.04,1145.28 L1494.74,1144.25 L1495.44,1143.22 L1496.15,1142.19 L1496.85,1141.16 L1497.55,1140.13 L1498.26,1139.10 L1498.96,1138.06 L1499.66,1137.02 L1500.37,1135.99 L1501.07,1134.95 L1501.77,1133.91 L1502.48,1132.86 L1503.18,1131.82 L1503.88,1130.78 L1504.58,1129.73 L1505.29,1128.68 L1505.99,1127.63 L1506.69,1126.58 L1507.40,1125.53 L1508.10,1124.48 L1508.80,1123.42 L1509.51,1122.36 L1510.21,1121.31 L1510.91,1120.25 L1511.62,1119.18 L1512.32,1118.12 L1513.02,1117.06 L1513.73,1115.99 L1514.43,1114.93 L1515.13,1113.86 L1515.84,1112.79 L1516.54,1111.71 L1517.24,1110.64 L1517.95,1109.57 L1518.65,1108.49 L1519.35,1107.41 L1520.06,1106.33 L1520.76,1105.25 L1521.46,1104.17 L1522.17,1103.09 L1522.87,1102.00 L1523.57,1100.91 L1524.27,1099.82 L1524.98,1098.73 L1525.68,1097.64 L1526.38,1096.55 L1527.09,1095.45 L1527.79,1094.36 L1528.49,1093.26 L1529.20,1092.16 L1529.90,1091.06 L1530.60,1089.96 L1531.31,1088.85 L1532.01,1087.75 L1532.71,1086.64 L1533.42,1085.53 L1534.12,1084.42 L1534.82,1083.31 L1535.53,1082.19 L1536.23,1081.08 L1536.93,1079.96 L1537.64,1078.84 L1538.34,1077.72 L1539.04,1076.60 L1539.75,1075.47 L1540.45,1074.35 L1541.15,1073.22 L1541.85,1072.09 L1542.56,1070.96 L1543.26,1069.83 L1543.96,1068.69 L1544.67,1067.56 L1545.37,1066.42 L1546.07,1065.28 L1546.78,1064.14 L1547.48,1063.00 L1548.18,1061.85 L1548.89,1060.71 L1549.59,1059.56 L1550.29,1058.41 L1551.00,1057.26 L1551.70,1056.11 L1552.40,1054.95 L1553.11,1053.80 L1553.81,1052.64 L1554.51,1051.48 L1555.22,1050.32 L1555.92,1049.15 L1556.62,1047.99 L1557.33,1046.82 L1558.03,1045.65 L1558.73,1044.48 L1559.44,1043.31 L1560.14,1042.14 L1560.84,1040.96 L1561.54,1039.78 L1562.25,1038.61 L1562.95,1037.42 L1563.65,1036.24 L1564.36,1035.06 L1565.06,1033.87 L1565.76,1032.68 L1566.47,1031.49 L1567.17,1030.30 L1567.87,1029.11 L1568.58,1027.91 L1569.28,1026.71 L1569.98,1025.51 L1570.69,1024.31 L1571.39,1023.11 L1572.09,1021.91 L1572.80,1020.70 L1573.50,1019.49 L1574.20,1018.28 L1574.91,1017.07 L1575.61,1015.85 L1576.31,1014.64 L1577.02,1013.42 L1577.72,1012.20 L1578.42,1010.98 L1579.13,1009.75 L1579.83,1008.53 L1580.53,1007.30 L1581.23,1006.07 L1581.94,1004.84 L1582.64,1003.60 L1583.34,1002.37 L1584.05,1001.13 L1584.75,999.89 L1585.45,998.65 L1586.16,997.41 L1586.86,996.16 L1587.56,994.91 L1588.27,993.67 L1588.97,992.41 L1589.67,991.16 L1590.38,989.91 L1591.08,988.65 L1591.78,987.39 L1592.49,986.13 L1593.19,984.86 L1593.89,983.60 L1594.60,982.33 L1595.30,981.06 L1596.00,979.79 L1596.71,978.52 L1597.41,977.24 L1598.11,975.96 L1598.81,974.68 L1599.52,973.40 L1600.22,972.12 L1600.92,970.83 L1601.63,969.54 L1602.33,968.25 L1603.03,966.96 L1603.74,965.66 L1604.44,964.37 L1605.14,963.07 L1605.85,961.77 L1606.55,960.46 L1607.25,959.16 L1607.96,957.85 L1608.66,956.54 L1609.36,955.23 L1610.07,953.91 L1610.77,952.60 L1611.47,951.28 L1612.18,949.96 L1612.88,948.64 L1613.58,947.31 L1614.29,945.98 L1614.99,944.65 L1615.69,943.32 L1616.40,941.99 L1617.10,940.65 L1617.80,939.31 L1618.50,937.97 L1619.21,936.63 L1619.91,935.28 L1620.61,933.94 L1621.32,932.59 L1622.02,931.23 L1622.72,929.88 L1623.43,928.52 L1624.13,927.16 L1624.83,925.80 L1625.54,924.44 L1626.24,923.07 L1626.94,921.70 L1627.65,920.33 L1628.35,918.96 L1629.05,917.58 L1629.76,916.21 L1630.46,914.83 L1631.16,913.44 L1631.87,912.06 L1632.57,910.67 L1633.27,909.28 L1633.98,907.89 L1634.68,906.49 L1635.38,905.09 L1636.09,903.70 L1636.79,902.29 L1637.49,900.89 L1638.19,899.48 L1638.90,898.07 L1639.60,896.66 L1640.30,895.24 L1641.01,893.83 L1641.71,892.41 L1642.41,890.99 L1643.12,889.56 L1643.82,888.13 L1644.52,886.70 L1645.23,885.27 L1645.93,883.84 L1646.63,882.40 L1647.34,880.96 L1648.04,879.52 L1648.74,878.07 L1649.45,876.62 L1650.15,875.17 L1650.85,873.72 L1651.56,872.26 L1652.26,870.81 L1652.96,869.34 L1653.67,867.88 L1654.37,866.41 L1655.07,864.95 L1655.77,863.47 L1656.48,862.00 L1657.18,860.52 L1657.88,859.04 L1658.59,857.56 L1659.29,856.08 L1659.99,854.59 L1660.70,853.10 L1661.40,851.60 L1662.10,850.11 L1662.81,848.61 L1663.51,847.11 L1664.21,845.60 L1664.92,844.09 L1665.62,842.58 L1666.32,841.07 L1667.03,839.56 L1667.73,838.04 L1668.43,836.52 L1669.14,834.99 L1669.84,833.46 L1670.54,831.93 L1671.25,830.40 L1671.95,828.86 L1672.65,827.33 L1673.36,825.78 L1674.06,824.24 L1674.76,822.69 L1675.46,821.14 L1676.17,819.59 L1676.87,818.03 L1677.57,816.47 L1678.28,814.91 L1678.98,813.34 L1679.68,811.78 L1680.39,810.20 L1681.09,808.63 L1681.79,807.05 L1682.50,805.47 L1683.20,803.89 L1683.90,802.30 L1684.61,800.71 L1685.31,799.12 L1686.01,797.52 L1686.72,795.92 L1687.42,794.32 L1688.12,792.72 L1688.83,791.11 L1689.53,789.49 L1690.23,787.88 L1690.94,786.26 L1691.64,784.64 L1692.34,783.02 L1693.05,781.39 L1693.75,779.76 L1694.45,778.12 L1695.15,776.48 L1695.86,774.84 L1696.56,773.20 L1697.26,771.55 L1697.97,769.90 L1698.67,768.25 L1699.37,766.59 L1700.08,764.93 L1700.78,763.27 L1701.48,761.60 L1702.19,759.93 L1702.89,758.25 L1703.59,756.58 L1704.30,754.89 L1705.00,753.21 L1705.70,751.52 L1706.41,749.83 L1707.11,748.14 L1707.81,746.44 L1708.52,744.73 L1709.22,743.03 L1709.92,741.32 L1710.63,739.61 L1711.33,737.89 L1712.03,736.17 L1712.73,734.45 L1713.44,732.72 L1714.14,730.99 L1714.84,729.26 L1715.55,727.52 L1716.25,725.78 L1716.95,724.03 L1717.66,722.29 L1718.36,720.53 L1719.06,718.78 L1719.77,717.02 L1720.47,715.25 L1721.17,713.49 L1721.88,711.72 L1722.58,709.94 L1723.28,708.16 L1723.99,706.38 L1724.69,704.59 L1725.39,702.80 L1726.10,701.01 L1726.80,699.21 L1727.50,697.41 L1728.21,695.60 L1728.91,693.79 L1729.61,691.98 L1730.32,690.16 L1731.02,688.34 L1731.72,686.52 L1732.42,684.69 L1733.13,682.85 L1733.83,681.02 L1734.53,679.17 L1735.24,677.33 L1735.94,675.48 L1736.64,673.63 L1737.35,671.77 L1738.05,669.91 L1738.75,668.04 L1739.46,666.17 L1740.16,664.29 L1740.86,662.42 L1741.57,660.53 L1742.27,658.65 L1742.97,656.75 L1743.68,654.86 L1744.38,652.96 L1745.08,651.05 L1745.79,649.14 L1746.49,647.23 L1747.19,645.31 L1747.90,643.39 L1748.60,641.47 L1749.30,639.54 L1750.01,637.60 L1750.71,635.66 L1751.41,633.72 L1752.11,631.77 L1752.82,629.82 L1753.52,627.86 L1754.22,625.90 L1754.93,623.93 L1755.63,621.96 L1756.33,619.98 L1757.04,618.00 L1757.74,616.02 L1758.44,614.03 L1759.15,612.03 L1759.85,610.03 L1760.55,608.03 L1761.26,606.02 L1761.96,604.01 L1762.66,601.99 L1763.37,599.96 L1764.07,597.94 L1764.77,595.90 L1765.48,593.86 L1766.18,591.82 L1766.88,589.77 L1767.59,587.72 L1768.29,585.66 L1768.99,583.60 L1769.69,581.53 L1770.40,579.46 L1771.10,577.38 L1771.80,575.30 L1772.51,573.21 L1773.21,571.12 L1773.91,569.02 L1774.62,566.92 L1775.32,564.81 L1776.02,562.69 L1776.73,560.57 L1777.43,558.45 L1778.13,556.32 L1778.84,554.18 L1779.54,552.04 L1780.24,549.90 L1780.95,547.75 L1781.65,545.59 L1782.35,543.43 L1783.06,541.26 L1783.76,539.09 L1784.46,536.91 L1785.17,534.72 L1785.87,532.53 L1786.57,530.34 L1787.28,528.14 L1787.98,525.93 L1788.68,523.72 L1789.38,521.50 L1790.09,519.27 L1790.79,517.04 L1791.49,514.81 L1792.20,512.57 L1792.90,510.32 L1793.60,508.06 L1794.31,505.81 L1795.01,503.54 L1795.71,501.27 L1796.42,498.99 L1797.12,496.71 L1797.82,494.42 L1798.53,492.12 L1799.23,489.82 L1799.93,487.51 L1800.64,485.20 L1801.34,482.88 L1802.04,480.55 L1802.75,478.22 L1803.45,475.88 L1804.15,473.53 L1804.86,471.18 L1805.56,468.82 L1806.26,466.46 L1806.96,464.09 L1807.67,461.71 L1808.37,459.32 L1809.07,456.93 L1809.78,454.53 L1810.48,452.13 L1811.18,449.72 L1811.89,447.30 L1812.59,444.87 L1813.29,442.44 L1814.00,440.00 L1814.70,437.56 L1815.40,435.11 L1816.11,432.65 L1816.81,430.18 L1817.51,427.71 L1818.22,425.23 L1818.92,422.74 L1819.62,420.24 L1820.33,417.74 L1821.03,415.23 L1821.73,412.72 L1822.44,410.19 L1823.14,407.66 L1823.84,405.12 L1824.55,402.58 L1825.25,400.02 L1825.95,397.46 L1826.65,394.89 L1827.36,392.32 L1828.06,389.73 L1828.76,387.14 L1829.47,384.54 L1830.17,381.94 L1830.87,379.32 L1831.58,376.70 L1832.28,374.07 L1832.98,371.43 L1833.69,368.78 L1834.39,366.13 L1835.09,363.47 L1835.80,360.80 L1836.50,358.12 L1837.20,355.43 L1837.91,352.73 L1838.61,350.03 L1839.31,347.32 L1840.02,344.60 L1840.72,341.87 L1841.42,339.13 L1842.13,336.38 L1842.83,333.63 L1843.53,330.86 L1844.24,328.09 L1844.94,325.31 L1845.64,322.52 L1846.34,319.72 L1847.05,316.91 L1847.75,314.10 L1848.45,311.27 L1849.16,308.44 L1849.86,305.59 L1850.56,302.74 L1851.27,299.88 L1851.97,297.00 L1852.67,294.12 L1853.38,291.23 L1854.08,288.33 L1854.78,285.42 L1855.49,282.50 L1856.19,279.57 L1856.89,276.63 L1857.60,273.68 L1858.30,270.72 L1859.00,267.75 L1859.71,264.77 L1860.41,261.79 L1861.11,258.79 L1861.82,255.78 L1862.52,252.76 L1863.22,249.73 L1863.92,246.69 L1864.63,243.64 L1865.33,240.57 L1866.03,237.50 L1866.74,234.42 L1867.44,231.32 L1868.14,228.22 L1868.85,225.10 L1869.55,221.98 L1870.25,218.84 L1870.96,215.69 L1871.66,212.53 L1872.36,209.36 L1873.07,206.18 L1873.77,202.98 L1874.47,199.78 L1875.18,196.56 L1875.88,193.33 L1876.58,190.09 L1877.29,186.84 L1877.99,183.58 L1878.69,180.30 L1879.40,177.01 L1880.10,173.71 L1880.80,170.40 L1881.51,167.07 L1882.21,163.73 L1882.91,160.38 L1883.61,157.02 L1884.32,153.64 L1885.02,150.25 L1885.72,146.85 L1886.43,143.44 L1887.13,140.01 L1887.83,136.57 L1888.54,133.12 L1889.24,129.65 L1889.94,126.17 L1890.65,122.67 L1891.35,119.16 L1892.05,115.64 L1892.76,112.11 L1893.46,108.56 L1894.16,104.99 L1894.87,101.41 L1895.57,97.82 L1896.27,94.21 L1896.98,90.59 L1897.68,86.95 L1898.38,83.30 L1899.09,79.64 L1899.79,75.95 L1900.49,72.26 L1901.20,68.55 L1901.90,64.82 L1902.60,61.08 L1903.30,57.32 L1904.01,53.54 L1904.71,49.75 L1905.41,45.95 L1906.12,42.13 L1906.82,38.29 L1907.52,34.43 L1908.23,30.56 L1908.93,26.67 L1909.63,22.77 L1910.34,18.84 L1911.04,14.91 L1911.74,10.95 L1912.45,6.98 L1913.15,2.98 L1913.85,-1.03 L1914.56,-5.05" stroke-width="11.5"/>
</g>
<line x1="1404" y1="1330" x2="1404" y2="1729" stroke="#c00000" stroke-width="10"/>
<circle cx="842.8" cy="1747.1" r="25" fill="#7030a0" stroke="#002060" stroke-width="3"/>
<circle cx="842.8" cy="1720.2" r="25" fill="#7030a0" stroke="#002060" stroke-width="3"/>
<circle cx="842.8" cy="1738.8" r="25" fill="#7030a0" stroke="#002060" stroke-width="3"/>
<circle cx="1124.2" cy="1514.0" r="25" fill="#7030a0" stroke="#002060" stroke-width="3"/>
<circle cx="1124.2" cy="1521.0" r="25" fill="#7030a0" stroke="#002060" stroke-width="3"/>
<circle cx="1124.2" cy="1525.0" r="25" fill="#7030a0" stroke="#002060" stroke-width="3"/>
<circle cx="1124.2" cy="1543.0" r="25" fill="#7030a0" stroke="#002060" stroke-width="3"/>
<circle cx="1124.2" cy="1562.0" r="25" fill="#7030a0" stroke="#002060" stroke-width="3"/>
<circle cx="1405.3" cy="1178.0" r="25" fill="#7030a0" stroke="#002060" stroke-width="3"/>
<circle cx="1405.3" cy="1133.0" r="25" fill="#7030a0" stroke="#002060" stroke-width="3"/>
<circle cx="1405.3" cy="1212.6" r="25" fill="#7030a0" stroke="#002060" stroke-width="3"/>
<circle cx="1405.3" cy="1223.5" r="25" fill="#7030a0" stroke="#002060" stroke-width="3"/>
<circle cx="1405.3" cy="1257.8" r="25" fill="#7030a0" stroke="#002060" stroke-width="3"/>
<circle cx="1545.8" cy="844.6" r="25" fill="#7030a0" stroke="#002060" stroke-width="3"/>
<circle cx="1545.8" cy="883.5" r="25" fill="#7030a0" stroke="#002060" stroke-width="3"/>
<circle cx="1545.8" cy="964.7" r="25" fill="#7030a0" stroke="#002060" stroke-width="3"/>
<circle cx="1545.8" cy="971.1" r="25" fill="#7030a0" stroke="#002060" stroke-width="3"/>
<circle cx="1753.1" cy="83.2" r="25" fill="#7030a0" stroke="#002060" stroke-width="3"/>
<circle cx="1753.1" cy="162.7" r="25" fill="#7030a0" stroke="#002060" stroke-width="3"/>
<circle cx="1753.1" cy="354.1" r="25" fill="#7030a0" stroke="#002060" stroke-width="3"/>
<circle cx="1753.1" cy="373.8" r="25" fill="#7030a0" stroke="#002060" stroke-width="3"/>
<circle cx="1753.1" cy="476.8" r="25" fill="#7030a0" stroke="#002060" stroke-width="3"/>
<rect x="281.0" y="25.92" width="1687.0" height="1965.08" fill="none" stroke="#000" stroke-width="6.5"/>
<line x1="1636.5" y1="233.5" x2="1683.4" y2="311.1" stroke="#404040" stroke-width="6.5"/>
<path d="M1700.0,338.5 L1657.4,310.5 L1683.4,311.1 L1695.0,287.8 Z" fill="#404040"/>
<line x1="1777.4" y1="1133.0" x2="1657.7" y2="944.4" stroke="#404040" stroke-width="6.5"/>
<path d="M1640.5,917.4 L1683.7,944.4 L1657.7,944.4 L1646.6,968.0 Z" fill="#404040"/>
<line x1="1604.2" y1="1386.0" x2="1550.5" y2="1317.0" stroke="#404040" stroke-width="6.5"/>
<path d="M1530.8,1291.7 L1576.4,1314.5 L1550.5,1317.0 L1541.7,1341.5 Z" fill="#404040"/>
<circle cx="428.0" cy="137.5" r="21" fill="#7030a0" stroke="#002060" stroke-width="3"/>
<text class="sans" font-size="64.21" textLength="187.20" lengthAdjust="spacingAndGlyphs" x="466.20" y="158.20">Set 18</text>
<text class="sans" font-size="58.42" text-anchor="end" x="222.40" y="2010.00">1</text>
<text class="sans" font-size="54.43" text-anchor="end" x="222.15" y="1154.20">10</text>
<text class="sans" font-size="57.19" text-anchor="end" x="222.50" y="301.00">100</text>
<text class="sans" font-size="55.24" text-anchor="middle" x="280.50" y="2090.00">0</text>
<text class="sans" font-size="55.95" text-anchor="middle" x="560.50" y="2091.60">0.1</text>
<text class="sans" font-size="55.95" text-anchor="middle" x="842.70" y="2091.60">0.2</text>
<text class="sans" font-size="55.95" text-anchor="middle" x="1123.85" y="2091.60">0.3</text>
<text class="sans" font-size="55.95" text-anchor="middle" x="1404.65" y="2091.60">0.4</text>
<text class="sans" font-size="55.42" text-anchor="middle" x="1685.95" y="2090.80">0.5</text>
<text class="sans" font-size="55.42" text-anchor="middle" x="1968.30" y="2090.80">0.6</text>
<text class="sans" font-size="67.35" textLength="837.90" lengthAdjust="spacingAndGlyphs" x="704.50" y="2192.00">Volume fraction of particles</text>
<text class="sans" font-size="63.34" textLength="539.20" lengthAdjust="spacingAndGlyphs" transform="translate(76.14,1289.00) rotate(-90)" x="0" y="0">Relative viscosity</text>
<text class="sans" font-size="52.67" textLength="935.90" lengthAdjust="spacingAndGlyphs" x="967.10" y="1795.00">transition of suspension microstructure</text>
<text class="sans" font-size="51.01" textLength="572.30" lengthAdjust="spacingAndGlyphs" x="1148.60" y="1864.00">from RCP to glassy state</text>
<text class="dserif" font-size="56.83" font-style="italic" stroke="#000" stroke-width="1.2" textLength="42.90" lengthAdjust="spacingAndGlyphs" x="1358.10" y="218.20">ϕ</text>
<text class="serif" font-size="43.36" font-style="italic" stroke="#000" stroke-width="0.9" textLength="118.70" lengthAdjust="spacingAndGlyphs" x="1406.40" y="184.00">glass</text>
<text class="serif" font-size="49.02" font-style="italic" stroke="#000" stroke-width="0.9" textLength="43.60" lengthAdjust="spacingAndGlyphs" x="1404.40" y="231.90">m</text>
<text class="sans" font-size="57.91" textLength="144.20" lengthAdjust="spacingAndGlyphs" x="1527.80" y="217.40">=0.58</text>
<text class="dserif" font-size="55.64" font-style="italic" stroke="#000" stroke-width="1.2" textLength="45.10" lengthAdjust="spacingAndGlyphs" x="1636.80" y="1220.50">ϕ</text>
<text class="serif" font-size="41.58" font-style="italic" stroke="#000" stroke-width="0.9" textLength="88.30" lengthAdjust="spacingAndGlyphs" x="1686.70" y="1195.90">RCP</text>
<text class="serif" font-size="45.82" font-style="italic" stroke="#000" stroke-width="0.9" textLength="44.00" lengthAdjust="spacingAndGlyphs" x="1682.00" y="1232.50">m</text>
<text class="sans" font-size="56.24" textLength="176.40" lengthAdjust="spacingAndGlyphs" x="1776.80" y="1220.00">=0.637</text>
<text class="serif" font-size="62.46" stroke="#000" stroke-width="0.6" textLength="43.50" lengthAdjust="spacingAndGlyphs" x="1506.60" y="1459.20">ϕ</text>
<text class="serif" font-size="46.30" font-style="italic" font-weight="bold" textLength="91.00" lengthAdjust="spacingAndGlyphs" x="1554.00" y="1437.50">HCP</text>
<text class="serif" font-size="52.54" font-style="italic" font-weight="bold" textLength="44.10" lengthAdjust="spacingAndGlyphs" x="1551.70" y="1473.20">m</text>
<text class="serif" font-size="72.94" font-weight="bold" textLength="48.10" lengthAdjust="spacingAndGlyphs" x="1665.80" y="1466.80">=</text>
<text class="serif" font-size="64.29" font-weight="bold" textLength="208.90" lengthAdjust="spacingAndGlyphs" x="1731.10" y="1459.00">0.7404</text>
</svg></body></html>
